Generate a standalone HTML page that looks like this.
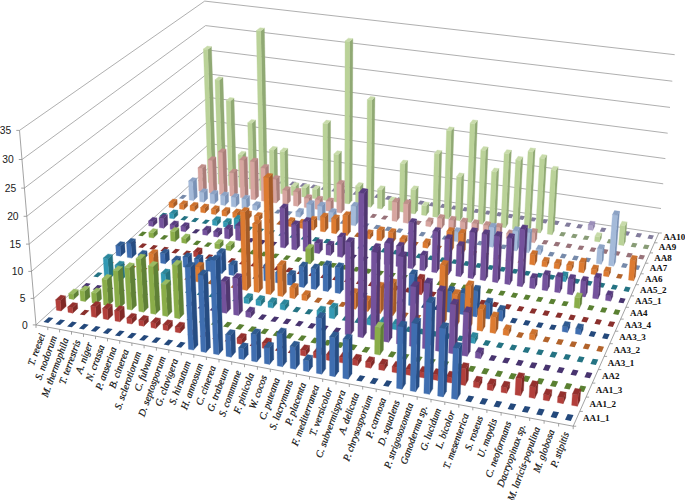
<!DOCTYPE html>
<html><head><meta charset="utf-8"><style>html,body{margin:0;padding:0;background:#fff;}svg{display:block}</style></head>
<body><svg width="685" height="500" viewBox="0 0 685 500">
<rect width="685" height="500" fill="#fff"/>
<g stroke="#9A9A9A" stroke-width="0.8" fill="none"><line x1="36.0" y1="324.9" x2="210.3" y2="166.4" /><line x1="210.3" y1="166.4" x2="658.8" y2="233.0" /><line x1="33.8" y1="298.4" x2="209.6" y2="143.6" /><line x1="209.6" y1="143.6" x2="661.0" y2="208.5" /><line x1="31.5" y1="271.4" x2="208.8" y2="120.6" /><line x1="208.8" y1="120.6" x2="663.2" y2="183.8" /><line x1="29.2" y1="244.1" x2="208.0" y2="97.3" /><line x1="208.0" y1="97.3" x2="665.4" y2="158.6" /><line x1="26.8" y1="216.3" x2="207.2" y2="73.7" /><line x1="207.2" y1="73.7" x2="667.7" y2="133.2" /><line x1="24.4" y1="188.1" x2="206.4" y2="49.8" /><line x1="206.4" y1="49.8" x2="670.0" y2="107.4" /><line x1="22.0" y1="159.5" x2="205.6" y2="25.6" /><line x1="205.6" y1="25.6" x2="672.3" y2="81.2" /><line x1="19.5" y1="130.4" x2="204.7" y2="1.1" /><line x1="204.7" y1="1.1" x2="674.7" y2="54.7" /></g><g stroke="#8C8C8C" stroke-width="0.8" fill="none"><line x1="36.0" y1="324.9" x2="19.5" y2="130.4"/><line x1="36.0" y1="324.9" x2="32.8" y2="324.9"/><line x1="33.8" y1="298.4" x2="30.6" y2="298.4"/><line x1="31.5" y1="271.4" x2="28.3" y2="271.4"/><line x1="29.2" y1="244.1" x2="26.0" y2="244.1"/><line x1="26.8" y1="216.3" x2="23.6" y2="216.3"/><line x1="24.4" y1="188.1" x2="21.2" y2="188.1"/><line x1="22.0" y1="159.5" x2="18.8" y2="159.5"/><line x1="19.5" y1="130.4" x2="16.3" y2="130.4"/><line x1="36.0" y1="324.9" x2="573.2" y2="426.2"/><line x1="36.0" y1="324.9" x2="36.0" y2="327.9"/><line x1="47.8" y1="327.1" x2="47.8" y2="330.1"/><line x1="59.6" y1="329.4" x2="59.6" y2="332.4"/><line x1="71.5" y1="331.6" x2="71.5" y2="334.6"/><line x1="83.5" y1="333.9" x2="83.5" y2="336.9"/><line x1="95.5" y1="336.1" x2="95.5" y2="339.1"/><line x1="107.5" y1="338.4" x2="107.5" y2="341.4"/><line x1="119.7" y1="340.7" x2="119.7" y2="343.7"/><line x1="131.9" y1="343.0" x2="131.9" y2="346.0"/><line x1="144.1" y1="345.3" x2="144.1" y2="348.3"/><line x1="156.4" y1="347.6" x2="156.4" y2="350.6"/><line x1="168.8" y1="350.0" x2="168.8" y2="353.0"/><line x1="181.3" y1="352.3" x2="181.3" y2="355.3"/><line x1="193.8" y1="354.7" x2="193.8" y2="357.7"/><line x1="206.4" y1="357.0" x2="206.4" y2="360.0"/><line x1="219.0" y1="359.4" x2="219.0" y2="362.4"/><line x1="231.7" y1="361.8" x2="231.7" y2="364.8"/><line x1="244.5" y1="364.2" x2="244.5" y2="367.2"/><line x1="257.4" y1="366.7" x2="257.4" y2="369.7"/><line x1="270.3" y1="369.1" x2="270.3" y2="372.1"/><line x1="283.3" y1="371.5" x2="283.3" y2="374.5"/><line x1="296.4" y1="374.0" x2="296.4" y2="377.0"/><line x1="309.5" y1="376.5" x2="309.5" y2="379.5"/><line x1="322.7" y1="379.0" x2="322.7" y2="382.0"/><line x1="336.0" y1="381.5" x2="336.0" y2="384.5"/><line x1="349.3" y1="384.0" x2="349.3" y2="387.0"/><line x1="362.7" y1="386.5" x2="362.7" y2="389.5"/><line x1="376.2" y1="389.1" x2="376.2" y2="392.1"/><line x1="389.8" y1="391.6" x2="389.8" y2="394.6"/><line x1="403.4" y1="394.2" x2="403.4" y2="397.2"/><line x1="417.2" y1="396.8" x2="417.2" y2="399.8"/><line x1="431.0" y1="399.4" x2="431.0" y2="402.4"/><line x1="444.8" y1="402.0" x2="444.8" y2="405.0"/><line x1="458.8" y1="404.6" x2="458.8" y2="407.6"/><line x1="472.8" y1="407.3" x2="472.8" y2="410.3"/><line x1="486.9" y1="409.9" x2="486.9" y2="412.9"/><line x1="501.1" y1="412.6" x2="501.1" y2="415.6"/><line x1="515.4" y1="415.3" x2="515.4" y2="418.3"/><line x1="529.7" y1="418.0" x2="529.7" y2="421.0"/><line x1="544.1" y1="420.7" x2="544.1" y2="423.7"/><line x1="558.6" y1="423.5" x2="558.6" y2="426.5"/><line x1="573.2" y1="426.2" x2="573.2" y2="429.2"/><line x1="573.2" y1="426.2" x2="658.8" y2="233.0"/><line x1="573.2" y1="426.2" x2="576.2" y2="426.2"/><line x1="579.8" y1="411.4" x2="582.8" y2="411.4"/><line x1="586.1" y1="397.1" x2="589.1" y2="397.1"/><line x1="592.3" y1="383.1" x2="595.3" y2="383.1"/><line x1="598.3" y1="369.6" x2="601.3" y2="369.6"/><line x1="604.1" y1="356.4" x2="607.1" y2="356.4"/><line x1="609.8" y1="343.7" x2="612.8" y2="343.7"/><line x1="615.3" y1="331.2" x2="618.3" y2="331.2"/><line x1="620.7" y1="319.1" x2="623.7" y2="319.1"/><line x1="625.9" y1="307.3" x2="628.9" y2="307.3"/><line x1="631.0" y1="295.9" x2="634.0" y2="295.9"/><line x1="635.9" y1="284.7" x2="638.9" y2="284.7"/><line x1="640.7" y1="273.8" x2="643.7" y2="273.8"/><line x1="645.4" y1="263.2" x2="648.4" y2="263.2"/><line x1="650.0" y1="252.9" x2="653.0" y2="252.9"/><line x1="654.5" y1="242.8" x2="657.5" y2="242.8"/><line x1="658.8" y1="233.0" x2="661.8" y2="233.0"/></g><g stroke-width="0.35" stroke-linejoin="round"><polygon points="207.1,172.6 211.1,173.2 214.7,169.9 210.7,169.3" fill="#827C9C"/><polygon points="217.1,174.1 221.2,174.7 224.8,171.4 220.7,170.8" fill="#827C9C"/><polygon points="227.3,175.6 231.4,176.2 234.9,172.9 230.8,172.3" fill="#827C9C"/><polygon points="237.5,177.1 241.6,177.7 245.0,174.4 241.0,173.8" fill="#827C9C"/><polygon points="247.7,178.7 251.8,179.3 255.2,175.9 251.2,175.3" fill="#827C9C"/><polygon points="258.0,180.2 262.1,180.8 265.5,177.5 261.4,176.8" fill="#827C9C"/><polygon points="268.3,181.8 272.4,182.4 275.8,179.0 271.7,178.4" fill="#827C9C"/><polygon points="278.7,183.3 282.8,183.9 286.1,180.5 282.0,179.9" fill="#827C9C"/><polygon points="289.1,184.9 293.2,185.5 296.5,182.1 292.4,181.5" fill="#827C9C"/><polygon points="299.5,186.4 303.7,187.1 306.9,183.6 302.8,183.0" fill="#827C9C"/><polygon points="310.0,188.0 314.2,188.6 317.4,185.2 313.2,184.6" fill="#827C9C"/><polygon points="320.5,189.6 324.8,190.2 327.9,186.8 323.7,186.1" fill="#827C9C"/><polygon points="331.1,191.2 335.4,191.8 338.5,188.3 334.3,187.7" fill="#827C9C"/><polygon points="341.8,192.8 346.0,193.4 349.1,189.9 344.8,189.3" fill="#827C9C"/><polygon points="352.4,194.4 356.7,195.0 359.7,191.5 355.5,190.9" fill="#827C9C"/><polygon points="363.2,196.0 367.5,196.6 370.4,193.1 366.2,192.5" fill="#827C9C"/><polygon points="373.9,197.6 378.3,198.2 381.2,194.7 376.9,194.1" fill="#827C9C"/><polygon points="384.8,199.2 389.1,199.9 392.0,196.3 387.7,195.7" fill="#827C9C"/><polygon points="395.6,200.8 400.0,201.5 402.8,197.9 398.5,197.3" fill="#827C9C"/><polygon points="406.5,202.5 410.9,203.1 413.7,199.6 409.4,198.9" fill="#827C9C"/><polygon points="417.5,204.1 421.9,204.8 424.7,201.2 420.3,200.5" fill="#827C9C"/><polygon points="428.5,205.8 432.9,206.4 435.6,202.8 431.2,202.2" fill="#827C9C"/><polygon points="439.6,207.4 444.0,208.1 446.7,204.5 442.3,203.8" fill="#827C9C"/><polygon points="450.7,209.1 455.1,209.8 457.8,206.1 453.3,205.5" fill="#827C9C"/><polygon points="461.8,210.8 466.3,211.4 468.9,207.8 464.4,207.1" fill="#827C9C"/><polygon points="473.0,212.4 477.5,213.1 480.1,209.4 475.6,208.8" fill="#827C9C"/><polygon points="484.3,214.1 488.8,214.8 491.3,211.1 486.8,210.4" fill="#827C9C"/><polygon points="495.6,215.8 500.1,216.5 502.6,212.8 498.1,212.1" fill="#827C9C"/><polygon points="507.0,217.5 511.5,218.2 513.9,214.5 509.4,213.8" fill="#827C9C"/><polygon points="518.4,219.2 522.9,219.9 525.3,216.2 520.7,215.5" fill="#827C9C"/><polygon points="529.8,221.0 534.4,221.6 536.7,217.9 532.1,217.2" fill="#827C9C"/><polygon points="541.3,222.7 546.0,223.4 548.2,219.6 543.6,218.9" fill="#827C9C"/><polygon points="552.9,224.4 557.6,225.1 559.7,221.3 555.1,220.6" fill="#827C9C"/><polygon points="564.5,226.2 569.2,226.9 571.3,223.1 566.7,222.4" fill="#827C9C"/><polygon points="576.2,227.9 580.9,228.6 583.0,224.8 578.3,224.1" fill="#827C9C"/><polygon points="592.63,230.37 594.65,226.53 595.00,221.70 592.97,225.52" fill="#8B7EA7" stroke="#8B7EA7"/><polygon points="587.92,229.67 592.63,230.37 592.97,225.52 588.26,224.82" fill="#AEA2C7" stroke="#AEA2C7"/><polygon points="588.26,224.82 592.97,225.52 595.00,221.70 590.31,221.00" fill="#9B8EB9" stroke="#9B8EB9"/><polygon points="599.7,231.4 604.4,232.1 606.4,228.3 601.7,227.6" fill="#827C9C"/><polygon points="611.5,233.2 616.3,233.9 618.2,230.0 613.5,229.3" fill="#827C9C"/><polygon points="623.4,235.0 628.2,235.7 630.1,231.8 625.3,231.1" fill="#827C9C"/><polygon points="635.4,236.8 640.1,237.5 642.0,233.6 637.2,232.9" fill="#827C9C"/><polygon points="647.4,238.6 652.2,239.3 653.9,235.4 649.1,234.7" fill="#827C9C"/><polygon points="197.9,180.9 202.0,181.6 205.6,178.2 201.6,177.6" fill="#889C76"/><polygon points="212.17,183.12 215.81,179.72 211.46,46.63 207.68,49.52" fill="#90A974" stroke="#90A974"/><polygon points="208.08,182.49 212.17,183.12 207.68,49.52 203.44,48.99" fill="#BAD298" stroke="#BAD298"/><polygon points="203.44,48.99 207.68,49.52 211.46,46.63 207.25,46.11" fill="#C8DBAA" stroke="#C8DBAA"/><polygon points="222.43,184.67 226.03,181.27 222.92,77.32 219.21,80.33" fill="#90A974" stroke="#90A974"/><polygon points="218.32,184.05 222.43,184.67 219.21,80.33 214.98,79.78" fill="#BAD298" stroke="#BAD298"/><polygon points="214.98,79.78 219.21,80.33 222.92,77.32 218.72,76.77" fill="#C8DBAA" stroke="#C8DBAA"/><polygon points="232.73,186.24 236.29,182.82 233.99,98.05 230.34,101.15" fill="#90A974" stroke="#90A974"/><polygon points="228.60,185.61 232.73,186.24 230.34,101.15 226.12,100.59" fill="#BAD298" stroke="#BAD298"/><polygon points="226.12,100.59 230.34,101.15 233.99,98.05 229.79,97.49" fill="#C8DBAA" stroke="#C8DBAA"/><polygon points="243.07,187.81 246.59,184.38 245.80,151.81 242.25,155.13" fill="#90A974" stroke="#90A974"/><polygon points="238.93,187.18 243.07,187.81 242.25,155.13 238.07,154.52" fill="#BAD298" stroke="#BAD298"/><polygon points="238.07,154.52 242.25,155.13 245.80,151.81 241.64,151.21" fill="#C8DBAA" stroke="#C8DBAA"/><polygon points="253.46,189.39 256.94,185.94 255.53,120.12 251.98,123.32" fill="#90A974" stroke="#90A974"/><polygon points="249.30,188.76 253.46,189.39 251.98,123.32 247.74,122.73" fill="#BAD298" stroke="#BAD298"/><polygon points="247.74,122.73 251.98,123.32 255.53,120.12 251.31,119.54" fill="#C8DBAA" stroke="#C8DBAA"/><polygon points="263.90,190.97 267.34,187.51 264.36,28.20 260.76,31.04" fill="#90A974" stroke="#90A974"/><polygon points="259.72,190.34 263.90,190.97 260.76,31.04 256.40,30.53" fill="#BAD298" stroke="#BAD298"/><polygon points="256.40,30.53 260.76,31.04 264.36,28.20 260.02,27.68" fill="#C8DBAA" stroke="#C8DBAA"/><polygon points="274.38,192.57 277.77,189.09 277.11,146.89 273.67,150.21" fill="#90A974" stroke="#90A974"/><polygon points="270.18,191.93 274.38,192.57 273.67,150.21 269.42,149.61" fill="#BAD298" stroke="#BAD298"/><polygon points="269.42,149.61 273.67,150.21 277.11,146.89 272.88,146.29" fill="#C8DBAA" stroke="#C8DBAA"/><polygon points="284.90,194.17 288.26,190.67 287.71,148.40 284.31,151.74" fill="#90A974" stroke="#90A974"/><polygon points="280.69,193.53 284.90,194.17 284.31,151.74 280.05,151.13" fill="#BAD298" stroke="#BAD298"/><polygon points="280.05,151.13 284.31,151.74 287.71,148.40 283.46,147.80" fill="#C8DBAA" stroke="#C8DBAA"/><polygon points="295.47,195.77 298.79,192.26 298.69,182.94 295.37,186.41" fill="#90A974" stroke="#90A974"/><polygon points="291.24,195.13 295.47,195.77 295.37,186.41 291.13,185.78" fill="#BAD298" stroke="#BAD298"/><polygon points="291.13,185.78 295.37,186.41 298.69,182.94 294.47,182.31" fill="#C8DBAA" stroke="#C8DBAA"/><polygon points="306.09,197.39 309.36,193.86 309.30,184.52 306.02,188.01" fill="#90A974" stroke="#90A974"/><polygon points="301.84,196.74 306.09,197.39 306.02,188.01 301.75,187.37" fill="#BAD298" stroke="#BAD298"/><polygon points="301.75,187.37 306.02,188.01 309.30,184.52 305.05,183.89" fill="#C8DBAA" stroke="#C8DBAA"/><polygon points="316.76,199.01 319.98,195.47 319.94,186.11 316.71,189.61" fill="#90A974" stroke="#90A974"/><polygon points="312.48,198.36 316.76,199.01 316.71,189.61 312.42,188.97" fill="#BAD298" stroke="#BAD298"/><polygon points="312.42,188.97 316.71,189.61 319.94,186.11 315.68,185.47" fill="#C8DBAA" stroke="#C8DBAA"/><polygon points="327.47,200.63 330.65,197.08 330.54,120.71 327.29,123.98" fill="#90A974" stroke="#90A974"/><polygon points="323.18,199.98 327.47,200.63 327.29,123.98 322.91,123.38" fill="#BAD298" stroke="#BAD298"/><polygon points="322.91,123.38 327.29,123.98 330.54,120.71 326.18,120.12" fill="#C8DBAA" stroke="#C8DBAA"/><polygon points="338.22,202.27 341.37,198.70 341.44,151.26 338.25,154.65" fill="#90A974" stroke="#90A974"/><polygon points="333.92,201.61 338.22,202.27 338.25,154.65 333.89,154.03" fill="#BAD298" stroke="#BAD298"/><polygon points="333.89,154.03 338.25,154.65 341.44,151.26 337.09,150.64" fill="#C8DBAA" stroke="#C8DBAA"/><polygon points="349.03,203.91 352.13,200.32 352.84,38.66 349.61,41.61" fill="#90A974" stroke="#90A974"/><polygon points="344.70,203.25 349.03,203.91 349.61,41.61 345.09,41.07" fill="#BAD298" stroke="#BAD298"/><polygon points="345.09,41.07 349.61,41.61 352.84,38.66 348.34,38.13" fill="#C8DBAA" stroke="#C8DBAA"/><polygon points="359.88,205.56 362.94,201.96 363.08,183.06 360.01,186.59" fill="#90A974" stroke="#90A974"/><polygon points="355.54,204.90 359.88,205.56 360.01,186.59 355.64,185.94" fill="#BAD298" stroke="#BAD298"/><polygon points="355.64,185.94 360.01,186.59 363.08,183.06 358.72,182.42" fill="#C8DBAA" stroke="#C8DBAA"/><polygon points="370.78,207.21 373.79,203.60 374.89,97.00 371.80,100.20" fill="#90A974" stroke="#90A974"/><polygon points="366.42,206.55 370.78,207.21 371.80,100.20 367.31,99.62" fill="#BAD298" stroke="#BAD298"/><polygon points="367.31,99.62 371.80,100.20 374.89,97.00 370.42,96.42" fill="#C8DBAA" stroke="#C8DBAA"/><polygon points="381.73,208.88 384.70,205.25 384.95,186.28 381.97,189.84" fill="#90A974" stroke="#90A974"/><polygon points="377.35,208.21 381.73,208.88 381.97,189.84 377.56,189.19" fill="#BAD298" stroke="#BAD298"/><polygon points="377.56,189.19 381.97,189.84 384.95,186.28 380.56,185.64" fill="#C8DBAA" stroke="#C8DBAA"/><polygon points="392.73,210.55 395.65,206.90 395.80,197.43 392.88,201.04" fill="#90A974" stroke="#90A974"/><polygon points="388.33,209.88 392.73,210.55 392.88,201.04 388.46,200.38" fill="#BAD298" stroke="#BAD298"/><polygon points="388.46,200.38 392.88,201.04 395.80,197.43 391.41,196.77" fill="#C8DBAA" stroke="#C8DBAA"/><polygon points="403.78,212.23 406.65,208.56 407.58,160.61 404.67,164.09" fill="#90A974" stroke="#90A974"/><polygon points="399.35,211.56 403.78,212.23 404.67,164.09 400.19,163.45" fill="#BAD298" stroke="#BAD298"/><polygon points="400.19,163.45 404.67,164.09 407.58,160.61 403.11,159.98" fill="#C8DBAA" stroke="#C8DBAA"/><polygon points="414.87,213.91 417.70,210.23 418.23,186.37 415.39,189.96" fill="#90A974" stroke="#90A974"/><polygon points="410.43,213.24 414.87,213.91 415.39,189.96 410.92,189.30" fill="#BAD298" stroke="#BAD298"/><polygon points="410.92,189.30 415.39,189.96 418.23,186.37 413.78,185.72" fill="#C8DBAA" stroke="#C8DBAA"/><polygon points="426.02,215.61 428.80,211.91 429.04,202.39 426.26,206.05" fill="#90A974" stroke="#90A974"/><polygon points="421.55,214.93 426.02,215.61 426.26,206.05 421.78,205.38" fill="#BAD298" stroke="#BAD298"/><polygon points="421.78,205.38 426.26,206.05 429.04,202.39 424.58,201.72" fill="#C8DBAA" stroke="#C8DBAA"/><polygon points="437.22,217.31 439.95,213.60 441.74,150.67 438.97,154.14" fill="#90A974" stroke="#90A974"/><polygon points="432.73,216.63 437.22,217.31 438.97,154.14 434.41,153.51" fill="#BAD298" stroke="#BAD298"/><polygon points="434.41,153.51 438.97,154.14 441.74,150.67 437.20,150.04" fill="#C8DBAA" stroke="#C8DBAA"/><polygon points="448.46,219.02 451.15,215.29 453.92,127.42 451.18,130.81" fill="#90A974" stroke="#90A974"/><polygon points="443.96,218.33 448.46,219.02 451.18,130.81 446.57,130.19" fill="#BAD298" stroke="#BAD298"/><polygon points="446.57,130.19 451.18,130.81 453.92,127.42 449.33,126.81" fill="#C8DBAA" stroke="#C8DBAA"/><polygon points="459.76,220.73 462.40,216.99 463.90,173.50 461.24,177.08" fill="#90A974" stroke="#90A974"/><polygon points="455.23,220.05 459.76,220.73 461.24,177.08 456.66,176.42" fill="#BAD298" stroke="#BAD298"/><polygon points="456.66,176.42 461.24,177.08 463.90,173.50 459.34,172.85" fill="#C8DBAA" stroke="#C8DBAA"/><polygon points="471.11,222.46 473.70,218.70 477.41,120.44 474.77,123.82" fill="#90A974" stroke="#90A974"/><polygon points="466.56,221.77 471.11,222.46 474.77,123.82 470.10,123.20" fill="#BAD298" stroke="#BAD298"/><polygon points="470.10,123.20 474.77,123.82 477.41,120.44 472.76,119.83" fill="#C8DBAA" stroke="#C8DBAA"/><polygon points="482.51,224.19 485.05,220.41 488.05,147.08 485.47,150.57" fill="#90A974" stroke="#90A974"/><polygon points="477.94,223.50 482.51,224.19 485.47,150.57 480.81,149.93" fill="#BAD298" stroke="#BAD298"/><polygon points="480.81,149.93 485.47,150.57 488.05,147.08 483.41,146.45" fill="#C8DBAA" stroke="#C8DBAA"/><polygon points="493.96,225.93 496.45,222.13 498.81,168.55 496.29,172.14" fill="#90A974" stroke="#90A974"/><polygon points="489.37,225.23 493.96,225.93 496.29,172.14 491.64,171.48" fill="#BAD298" stroke="#BAD298"/><polygon points="491.64,171.48 496.29,172.14 498.81,168.55 494.17,167.90" fill="#C8DBAA" stroke="#C8DBAA"/><polygon points="505.46,227.68 507.90,223.86 511.38,150.27 508.90,153.79" fill="#90A974" stroke="#90A974"/><polygon points="500.85,226.98 505.46,227.68 508.90,153.79 504.20,153.15" fill="#BAD298" stroke="#BAD298"/><polygon points="504.20,153.15 508.90,153.79 511.38,150.27 506.69,149.63" fill="#C8DBAA" stroke="#C8DBAA"/><polygon points="517.01,229.43 519.41,225.60 522.87,156.88 520.45,160.44" fill="#90A974" stroke="#90A974"/><polygon points="512.39,228.73 517.01,229.43 520.45,160.44 515.73,159.79" fill="#BAD298" stroke="#BAD298"/><polygon points="515.73,159.79 520.45,160.44 522.87,156.88 518.17,156.23" fill="#C8DBAA" stroke="#C8DBAA"/><polygon points="528.62,231.20 530.96,227.35 535.20,148.45 532.83,151.99" fill="#90A974" stroke="#90A974"/><polygon points="523.97,230.49 528.62,231.20 532.83,151.99 528.07,151.34" fill="#BAD298" stroke="#BAD298"/><polygon points="528.07,151.34 532.83,151.99 535.20,148.45 530.46,147.81" fill="#C8DBAA" stroke="#C8DBAA"/><polygon points="540.28,232.97 542.57,229.10 546.78,155.10 544.47,158.67" fill="#90A974" stroke="#90A974"/><polygon points="535.61,232.26 540.28,232.97 544.47,158.67 539.70,158.02" fill="#BAD298" stroke="#BAD298"/><polygon points="539.70,158.02 544.47,158.67 546.78,155.10 542.03,154.45" fill="#C8DBAA" stroke="#C8DBAA"/><polygon points="552.00,234.75 554.24,230.87 558.09,166.78 555.83,170.42" fill="#90A974" stroke="#90A974"/><polygon points="547.31,234.04 552.00,234.75 555.83,170.42 551.05,169.75" fill="#BAD298" stroke="#BAD298"/><polygon points="551.05,169.75 555.83,170.42 558.09,166.78 553.33,166.13" fill="#C8DBAA" stroke="#C8DBAA"/><polygon points="559.1,235.8 563.8,236.5 566.0,232.6 561.3,231.9" fill="#889C76"/><polygon points="570.9,237.6 575.6,238.3 577.7,234.4 573.0,233.7" fill="#889C76"/><polygon points="582.7,239.4 587.5,240.1 589.5,236.2 584.8,235.5" fill="#889C76"/><polygon points="599.40,241.95 601.43,238.00 601.78,233.11 599.76,237.05" fill="#90A974" stroke="#90A974"/><polygon points="594.62,241.22 599.40,241.95 599.76,237.05 594.97,236.32" fill="#BAD298" stroke="#BAD298"/><polygon points="594.97,236.32 599.76,237.05 601.78,233.11 597.02,232.40" fill="#C8DBAA" stroke="#C8DBAA"/><polygon points="606.6,243.0 611.4,243.8 613.4,239.8 608.6,239.1" fill="#889C76"/><polygon points="623.43,245.60 625.35,241.61 626.92,221.92 625.00,225.83" fill="#90A974" stroke="#90A974"/><polygon points="618.61,244.87 623.43,245.60 625.00,225.83 620.15,225.11" fill="#BAD298" stroke="#BAD298"/><polygon points="620.15,225.11 625.00,225.83 626.92,221.92 622.09,221.21" fill="#C8DBAA" stroke="#C8DBAA"/><polygon points="630.7,246.7 635.5,247.4 637.4,243.4 632.6,242.7" fill="#889C76"/><polygon points="642.8,248.5 647.7,249.3 649.5,245.3 644.6,244.5" fill="#889C76"/><polygon points="188.5,189.5 192.6,190.1 196.4,186.7 192.3,186.1" fill="#987279"/><polygon points="202.94,191.73 206.66,188.26 205.84,164.97 202.09,168.35" fill="#AA7E7A" stroke="#AA7E7A"/><polygon points="198.81,191.09 202.94,191.73 202.09,168.35 197.93,167.73" fill="#D7A5A0" stroke="#D7A5A0"/><polygon points="197.93,167.73 202.09,168.35 205.84,164.97 201.70,164.35" fill="#BF8F8A" stroke="#BF8F8A"/><polygon points="213.29,193.33 216.97,189.84 215.91,157.09 212.19,160.45" fill="#AA7E7A" stroke="#AA7E7A"/><polygon points="209.14,192.69 213.29,193.33 212.19,160.45 208.01,159.84" fill="#D7A5A0" stroke="#D7A5A0"/><polygon points="208.01,159.84 212.19,160.45 215.91,157.09 211.74,156.48" fill="#BF8F8A" stroke="#BF8F8A"/><polygon points="223.69,194.93 227.33,191.43 226.08,149.14 222.39,152.48" fill="#AA7E7A" stroke="#AA7E7A"/><polygon points="219.53,194.29 223.69,194.93 222.39,152.48 218.18,151.87" fill="#D7A5A0" stroke="#D7A5A0"/><polygon points="218.18,151.87 222.39,152.48 226.08,149.14 221.88,148.53" fill="#BF8F8A" stroke="#BF8F8A"/><polygon points="234.14,196.54 237.74,193.02 237.11,169.61 233.48,173.03" fill="#AA7E7A" stroke="#AA7E7A"/><polygon points="229.95,195.89 234.14,196.54 233.48,173.03 229.27,172.40" fill="#D7A5A0" stroke="#D7A5A0"/><polygon points="229.27,172.40 233.48,173.03 237.11,169.61 232.92,168.98" fill="#BF8F8A" stroke="#BF8F8A"/><polygon points="244.63,198.15 248.19,194.62 247.28,156.95 243.68,160.33" fill="#AA7E7A" stroke="#AA7E7A"/><polygon points="240.43,197.51 244.63,198.15 243.68,160.33 239.44,159.71" fill="#D7A5A0" stroke="#D7A5A0"/><polygon points="239.44,159.71 243.68,160.33 247.28,156.95 243.06,156.33" fill="#BF8F8A" stroke="#BF8F8A"/><polygon points="255.17,199.78 258.68,196.23 257.89,158.49 254.33,161.89" fill="#AA7E7A" stroke="#AA7E7A"/><polygon points="250.94,199.13 255.17,199.78 254.33,161.89 250.07,161.27" fill="#D7A5A0" stroke="#D7A5A0"/><polygon points="250.07,161.27 254.33,161.89 257.89,158.49 253.64,157.87" fill="#BF8F8A" stroke="#BF8F8A"/><polygon points="265.75,201.41 269.22,197.85 268.62,164.80 265.11,168.24" fill="#AA7E7A" stroke="#AA7E7A"/><polygon points="261.51,200.75 265.75,201.41 265.11,168.24 260.84,167.61" fill="#D7A5A0" stroke="#D7A5A0"/><polygon points="260.84,167.61 265.11,168.24 268.62,164.80 264.36,164.18" fill="#BF8F8A" stroke="#BF8F8A"/><polygon points="276.38,203.04 279.81,199.47 279.45,175.89 275.99,179.37" fill="#AA7E7A" stroke="#AA7E7A"/><polygon points="272.12,202.39 276.38,203.04 275.99,179.37 271.71,178.73" fill="#D7A5A0" stroke="#D7A5A0"/><polygon points="271.71,178.73 275.99,179.37 279.45,175.89 275.18,175.25" fill="#BF8F8A" stroke="#BF8F8A"/><polygon points="287.06,204.69 290.45,201.10 290.27,186.96 286.87,190.50" fill="#AA7E7A" stroke="#AA7E7A"/><polygon points="282.78,204.03 287.06,204.69 286.87,190.50 282.57,189.85" fill="#D7A5A0" stroke="#D7A5A0"/><polygon points="282.57,189.85 286.87,190.50 290.27,186.96 286.00,186.32" fill="#BF8F8A" stroke="#BF8F8A"/><polygon points="297.78,206.34 301.13,202.73 300.99,188.57 297.63,192.12" fill="#AA7E7A" stroke="#AA7E7A"/><polygon points="293.48,205.68 297.78,206.34 297.63,192.12 293.32,191.47" fill="#D7A5A0" stroke="#D7A5A0"/><polygon points="293.32,191.47 297.63,192.12 300.99,188.57 296.70,187.93" fill="#BF8F8A" stroke="#BF8F8A"/><polygon points="308.55,208.00 311.86,204.38 311.79,194.93 308.48,198.52" fill="#AA7E7A" stroke="#AA7E7A"/><polygon points="304.24,207.33 308.55,208.00 308.48,198.52 304.15,197.86" fill="#D7A5A0" stroke="#D7A5A0"/><polygon points="304.15,197.86 308.48,198.52 311.79,194.93 307.49,194.28" fill="#BF8F8A" stroke="#BF8F8A"/><polygon points="319.37,209.67 322.63,206.03 322.60,196.56 319.33,200.17" fill="#AA7E7A" stroke="#AA7E7A"/><polygon points="315.04,209.00 319.37,209.67 319.33,200.17 314.98,199.51" fill="#D7A5A0" stroke="#D7A5A0"/><polygon points="314.98,199.51 319.33,200.17 322.60,196.56 318.27,195.91" fill="#BF8F8A" stroke="#BF8F8A"/><polygon points="330.24,211.34 333.45,207.69 333.45,198.21 330.22,201.82" fill="#AA7E7A" stroke="#AA7E7A"/><polygon points="325.88,210.67 330.24,211.34 330.22,201.82 325.86,201.16" fill="#D7A5A0" stroke="#D7A5A0"/><polygon points="325.86,201.16 330.22,201.82 333.45,198.21 329.10,197.55" fill="#BF8F8A" stroke="#BF8F8A"/><polygon points="341.15,213.02 344.33,209.35 344.39,180.71 341.19,184.28" fill="#AA7E7A" stroke="#AA7E7A"/><polygon points="336.78,212.35 341.15,213.02 341.19,184.28 336.79,183.62" fill="#D7A5A0" stroke="#D7A5A0"/><polygon points="336.79,183.62 341.19,184.28 344.39,180.71 340.00,180.07" fill="#BF8F8A" stroke="#BF8F8A"/><polygon points="347.7,214.0 352.1,214.7 355.2,211.0 350.9,210.4" fill="#987279"/><polygon points="358.7,215.7 363.1,216.4 366.2,212.7 361.8,212.0" fill="#987279"/><polygon points="369.8,217.4 374.2,218.1 377.2,214.4 372.8,213.7" fill="#987279"/><polygon points="380.9,219.1 385.3,219.8 388.3,216.1 383.9,215.4" fill="#987279"/><polygon points="396.47,221.54 399.41,217.79 399.75,198.58 396.79,202.26" fill="#AA7E7A" stroke="#AA7E7A"/><polygon points="392.00,220.85 396.47,221.54 396.79,202.26 392.30,201.58" fill="#D7A5A0" stroke="#D7A5A0"/><polygon points="392.30,201.58 396.79,202.26 399.75,198.58 395.27,197.91" fill="#BF8F8A" stroke="#BF8F8A"/><polygon points="407.68,223.27 410.58,219.50 410.97,200.25 408.07,203.95" fill="#AA7E7A" stroke="#AA7E7A"/><polygon points="403.19,222.58 407.68,223.27 408.07,203.95 403.55,203.27" fill="#D7A5A0" stroke="#D7A5A0"/><polygon points="403.55,203.27 408.07,203.95 410.97,200.25 406.48,199.58" fill="#BF8F8A" stroke="#BF8F8A"/><polygon points="414.4,224.3 418.9,225.0 421.8,221.2 417.3,220.5" fill="#987279"/><polygon points="430.26,226.75 433.06,222.94 433.19,218.14 430.39,221.92" fill="#AA7E7A" stroke="#AA7E7A"/><polygon points="425.73,226.05 430.26,226.75 430.39,221.92 425.85,221.23" fill="#D7A5A0" stroke="#D7A5A0"/><polygon points="425.85,221.23 430.39,221.92 433.19,218.14 428.67,217.45" fill="#BF8F8A" stroke="#BF8F8A"/><polygon points="441.63,228.50 444.38,224.68 444.67,215.03 441.91,218.81" fill="#AA7E7A" stroke="#AA7E7A"/><polygon points="437.08,227.80 441.63,228.50 441.91,218.81 437.35,218.12" fill="#D7A5A0" stroke="#D7A5A0"/><polygon points="437.35,218.12 441.91,218.81 444.67,215.03 440.13,214.34" fill="#BF8F8A" stroke="#BF8F8A"/><polygon points="453.05,230.26 455.75,226.42 456.07,216.75 453.36,220.55" fill="#AA7E7A" stroke="#AA7E7A"/><polygon points="448.48,229.55 453.05,230.26 453.36,220.55 448.78,219.86" fill="#D7A5A0" stroke="#D7A5A0"/><polygon points="448.78,219.86 453.36,220.55 456.07,216.75 451.51,216.06" fill="#BF8F8A" stroke="#BF8F8A"/><polygon points="464.52,232.02 467.17,228.17 467.52,218.49 464.87,222.30" fill="#AA7E7A" stroke="#AA7E7A"/><polygon points="459.93,231.32 464.52,232.02 464.87,222.30 460.26,221.60" fill="#D7A5A0" stroke="#D7A5A0"/><polygon points="460.26,221.60 464.87,222.30 467.52,218.49 462.94,217.79" fill="#BF8F8A" stroke="#BF8F8A"/><polygon points="476.05,233.80 478.65,229.93 479.03,220.23 476.42,224.06" fill="#AA7E7A" stroke="#AA7E7A"/><polygon points="471.43,233.09 476.05,233.80 476.42,224.06 471.79,223.36" fill="#D7A5A0" stroke="#D7A5A0"/><polygon points="471.79,223.36 476.42,224.06 479.03,220.23 474.42,219.53" fill="#BF8F8A" stroke="#BF8F8A"/><polygon points="487.62,235.58 490.17,231.69 490.59,221.97 488.03,225.83" fill="#AA7E7A" stroke="#AA7E7A"/><polygon points="482.98,234.87 487.62,235.58 488.03,225.83 483.38,225.12" fill="#D7A5A0" stroke="#D7A5A0"/><polygon points="483.38,225.12 488.03,225.83 490.59,221.97 485.96,221.27" fill="#BF8F8A" stroke="#BF8F8A"/><polygon points="499.25,237.37 501.75,233.47 502.20,223.73 499.69,227.60" fill="#AA7E7A" stroke="#AA7E7A"/><polygon points="494.59,236.66 499.25,237.37 499.69,227.60 495.02,226.89" fill="#D7A5A0" stroke="#D7A5A0"/><polygon points="495.02,226.89 499.69,227.60 502.20,223.73 497.55,223.03" fill="#BF8F8A" stroke="#BF8F8A"/><polygon points="510.93,239.17 513.38,235.25 513.62,230.38 511.17,234.28" fill="#AA7E7A" stroke="#AA7E7A"/><polygon points="506.26,238.45 510.93,239.17 511.17,234.28 506.48,233.57" fill="#D7A5A0" stroke="#D7A5A0"/><polygon points="506.48,233.57 511.17,234.28 513.62,230.38 508.96,229.67" fill="#BF8F8A" stroke="#BF8F8A"/><polygon points="522.67,240.98 525.07,237.04 525.32,232.16 522.92,236.08" fill="#AA7E7A" stroke="#AA7E7A"/><polygon points="517.97,240.26 522.67,240.98 522.92,236.08 518.22,235.36" fill="#D7A5A0" stroke="#D7A5A0"/><polygon points="518.22,235.36 522.92,236.08 525.32,232.16 520.64,231.45" fill="#BF8F8A" stroke="#BF8F8A"/><polygon points="534.46,242.80 536.81,238.84 537.35,229.05 535.00,232.97" fill="#AA7E7A" stroke="#AA7E7A"/><polygon points="529.74,242.07 534.46,242.80 535.00,232.97 530.27,232.25" fill="#D7A5A0" stroke="#D7A5A0"/><polygon points="530.27,232.25 535.00,232.97 537.35,229.05 532.64,228.33" fill="#BF8F8A" stroke="#BF8F8A"/><polygon points="541.6,243.9 546.3,244.6 548.6,240.6 543.9,239.9" fill="#987279"/><polygon points="553.4,245.7 558.2,246.5 560.5,242.5 555.7,241.7" fill="#987279"/><polygon points="565.4,247.6 570.2,248.3 572.4,244.3 567.6,243.6" fill="#987279"/><polygon points="577.4,249.4 582.2,250.1 584.3,246.1 579.5,245.4" fill="#987279"/><polygon points="589.4,251.3 594.3,252.0 596.3,248.0 591.5,247.2" fill="#987279"/><polygon points="601.5,253.1 606.4,253.9 608.4,249.8 603.6,249.1" fill="#987279"/><polygon points="613.7,255.0 618.6,255.8 620.5,251.7 615.7,250.9" fill="#987279"/><polygon points="625.9,256.9 630.8,257.6 632.7,253.5 627.8,252.8" fill="#987279"/><polygon points="638.2,258.8 643.1,259.5 645.0,255.4 640.0,254.7" fill="#987279"/><polygon points="178.9,198.3 183.1,198.9 186.9,195.4 182.8,194.7" fill="#768AAA"/><polygon points="193.48,200.55 197.29,197.00 196.58,178.21 192.75,181.69" fill="#7A92B6" stroke="#7A92B6"/><polygon points="189.31,199.89 193.48,200.55 192.75,181.69 188.56,181.05" fill="#A4BAD9" stroke="#A4BAD9"/><polygon points="188.56,181.05 192.75,181.69 196.58,178.21 192.41,177.58" fill="#8CA2C4" stroke="#8CA2C4"/><polygon points="203.94,202.18 207.71,198.61 207.38,189.23 203.60,192.76" fill="#7A92B6" stroke="#7A92B6"/><polygon points="199.75,201.53 203.94,202.18 203.60,192.76 199.40,192.11" fill="#A4BAD9" stroke="#A4BAD9"/><polygon points="199.40,192.11 203.60,192.76 207.38,189.23 203.20,188.59" fill="#8CA2C4" stroke="#8CA2C4"/><polygon points="214.44,203.82 218.17,200.24 217.86,190.84 214.13,194.38" fill="#7A92B6" stroke="#7A92B6"/><polygon points="210.23,203.16 214.44,203.82 214.13,194.38 209.91,193.73" fill="#A4BAD9" stroke="#A4BAD9"/><polygon points="209.91,193.73 214.13,194.38 217.86,190.84 213.66,190.19" fill="#8CA2C4" stroke="#8CA2C4"/><polygon points="224.99,205.47 228.67,201.87 228.40,192.45 224.70,196.01" fill="#7A92B6" stroke="#7A92B6"/><polygon points="220.76,204.81 224.99,205.47 224.70,196.01 220.47,195.36" fill="#A4BAD9" stroke="#A4BAD9"/><polygon points="220.47,195.36 224.70,196.01 228.40,192.45 224.18,191.81" fill="#8CA2C4" stroke="#8CA2C4"/><polygon points="235.58,207.12 239.23,203.51 238.98,194.07 235.32,197.65" fill="#7A92B6" stroke="#7A92B6"/><polygon points="231.34,206.46 235.58,207.12 235.32,197.65 231.07,197.00" fill="#A4BAD9" stroke="#A4BAD9"/><polygon points="231.07,197.00 235.32,197.65 238.98,194.07 234.74,193.42" fill="#8CA2C4" stroke="#8CA2C4"/><polygon points="246.22,208.78 249.83,205.16 249.60,195.70 245.99,199.30" fill="#7A92B6" stroke="#7A92B6"/><polygon points="241.96,208.12 246.22,208.78 245.99,199.30 241.72,198.64" fill="#A4BAD9" stroke="#A4BAD9"/><polygon points="241.72,198.64 245.99,199.30 249.60,195.70 245.35,195.05" fill="#8CA2C4" stroke="#8CA2C4"/><polygon points="256.91,210.45 260.47,206.81 260.38,202.08 256.81,205.71" fill="#7A92B6" stroke="#7A92B6"/><polygon points="252.63,209.79 256.91,210.45 256.81,205.71 252.52,205.04" fill="#A4BAD9" stroke="#A4BAD9"/><polygon points="252.52,205.04 256.81,205.71 260.38,202.08 256.11,201.42" fill="#8CA2C4" stroke="#8CA2C4"/><polygon points="263.4,211.5 267.7,212.1 271.2,208.5 266.9,207.8" fill="#768AAA"/><polygon points="274.1,213.1 278.4,213.8 281.9,210.1 277.6,209.5" fill="#768AAA"/><polygon points="284.9,214.8 289.3,215.5 292.7,211.8 288.4,211.1" fill="#768AAA"/><polygon points="300.15,217.21 303.53,213.50 303.49,208.74 300.10,212.43" fill="#7A92B6" stroke="#7A92B6"/><polygon points="295.79,216.53 300.15,217.21 300.10,212.43 295.74,211.75" fill="#A4BAD9" stroke="#A4BAD9"/><polygon points="295.74,211.75 300.10,212.43 303.49,208.74 299.15,208.07" fill="#8CA2C4" stroke="#8CA2C4"/><polygon points="311.08,218.91 314.42,215.19 314.33,200.84 310.98,204.51" fill="#7A92B6" stroke="#7A92B6"/><polygon points="306.70,218.23 311.08,218.91 310.98,204.51 306.59,203.84" fill="#A4BAD9" stroke="#A4BAD9"/><polygon points="306.59,203.84 310.98,204.51 314.33,200.84 309.96,200.18" fill="#8CA2C4" stroke="#8CA2C4"/><polygon points="322.06,220.63 325.35,216.89 325.31,202.51 322.00,206.20" fill="#7A92B6" stroke="#7A92B6"/><polygon points="317.66,219.94 322.06,220.63 322.00,206.20 317.59,205.53" fill="#A4BAD9" stroke="#A4BAD9"/><polygon points="317.59,205.53 322.00,206.20 325.31,202.51 320.91,201.84" fill="#8CA2C4" stroke="#8CA2C4"/><polygon points="333.09,222.35 336.34,218.59 336.34,209.01 333.08,212.73" fill="#7A92B6" stroke="#7A92B6"/><polygon points="328.67,221.66 333.09,222.35 333.08,212.73 328.65,212.05" fill="#A4BAD9" stroke="#A4BAD9"/><polygon points="328.65,212.05 333.08,212.73 336.34,209.01 331.93,208.33" fill="#8CA2C4" stroke="#8CA2C4"/><polygon points="339.7,223.4 344.2,224.1 347.4,220.3 343.0,219.6" fill="#768AAA"/><polygon points="355.30,225.82 358.45,222.03 358.57,202.74 355.40,206.46" fill="#7A92B6" stroke="#7A92B6"/><polygon points="350.84,225.12 355.30,225.82 355.40,206.46 350.92,205.77" fill="#A4BAD9" stroke="#A4BAD9"/><polygon points="350.92,205.77 355.40,206.46 358.57,202.74 354.11,202.06" fill="#8CA2C4" stroke="#8CA2C4"/><polygon points="362.0,226.9 366.5,227.6 369.6,223.8 365.1,223.1" fill="#768AAA"/><polygon points="373.2,228.6 377.7,229.3 380.8,225.5 376.3,224.8" fill="#768AAA"/><polygon points="384.5,230.4 389.0,231.1 392.0,227.2 387.5,226.5" fill="#768AAA"/><polygon points="395.8,232.1 400.3,232.9 403.3,229.0 398.8,228.3" fill="#768AAA"/><polygon points="407.1,233.9 411.7,234.6 414.6,230.8 410.1,230.0" fill="#768AAA"/><polygon points="418.6,235.7 423.1,236.4 426.0,232.5 421.5,231.8" fill="#768AAA"/><polygon points="430.0,237.5 434.6,238.2 437.5,234.3 432.9,233.6" fill="#768AAA"/><polygon points="441.6,239.3 446.2,240.0 448.9,236.1 444.3,235.4" fill="#768AAA"/><polygon points="457.77,241.83 460.49,237.88 460.83,228.10 458.10,232.01" fill="#7A92B6" stroke="#7A92B6"/><polygon points="453.13,241.10 457.77,241.83 458.10,232.01 453.45,231.29" fill="#A4BAD9" stroke="#A4BAD9"/><polygon points="453.45,231.29 458.10,232.01 460.83,228.10 456.19,227.39" fill="#8CA2C4" stroke="#8CA2C4"/><polygon points="464.8,242.9 469.4,243.6 472.1,239.7 467.4,239.0" fill="#768AAA"/><polygon points="476.4,244.7 481.1,245.5 483.7,241.5 479.1,240.8" fill="#768AAA"/><polygon points="492.89,247.31 495.45,243.31 496.32,223.59 493.75,227.52" fill="#7A92B6" stroke="#7A92B6"/><polygon points="488.18,246.58 492.89,247.31 493.75,227.52 489.01,226.80" fill="#A4BAD9" stroke="#A4BAD9"/><polygon points="489.01,226.80 493.75,227.52 496.32,223.59 491.61,222.88" fill="#8CA2C4" stroke="#8CA2C4"/><polygon points="500.0,248.4 504.7,249.2 507.2,245.1 502.5,244.4" fill="#768AAA"/><polygon points="516.57,251.01 519.03,246.97 520.03,227.18 517.57,231.15" fill="#7A92B6" stroke="#7A92B6"/><polygon points="511.82,250.27 516.57,251.01 517.57,231.15 512.78,230.42" fill="#A4BAD9" stroke="#A4BAD9"/><polygon points="512.78,230.42 517.57,231.15 520.03,227.18 515.27,226.46" fill="#8CA2C4" stroke="#8CA2C4"/><polygon points="528.50,252.87 530.90,248.81 531.97,228.99 529.56,232.97" fill="#7A92B6" stroke="#7A92B6"/><polygon points="523.72,252.13 528.50,252.87 529.56,232.97 524.76,232.24" fill="#A4BAD9" stroke="#A4BAD9"/><polygon points="524.76,232.24 529.56,232.97 531.97,228.99 527.19,228.27" fill="#8CA2C4" stroke="#8CA2C4"/><polygon points="540.48,254.75 542.83,250.67 543.11,245.72 540.76,249.78" fill="#7A92B6" stroke="#7A92B6"/><polygon points="535.68,254.00 540.48,254.75 540.76,249.78 535.95,249.04" fill="#A4BAD9" stroke="#A4BAD9"/><polygon points="535.95,249.04 540.76,249.78 543.11,245.72 538.33,244.98" fill="#8CA2C4" stroke="#8CA2C4"/><polygon points="547.7,255.9 552.5,256.6 554.8,252.5 550.0,251.8" fill="#768AAA"/><polygon points="559.8,257.8 564.6,258.5 566.9,254.4 562.0,253.6" fill="#768AAA"/><polygon points="571.9,259.7 576.8,260.4 578.9,256.3 574.1,255.5" fill="#768AAA"/><polygon points="584.1,261.6 589.0,262.3 591.1,258.2 586.2,257.4" fill="#768AAA"/><polygon points="601.24,264.24 603.31,260.06 604.43,245.05 602.35,249.17" fill="#7A92B6" stroke="#7A92B6"/><polygon points="596.33,263.47 601.24,264.24 602.35,249.17 597.42,248.41" fill="#A4BAD9" stroke="#A4BAD9"/><polygon points="597.42,248.41 602.35,249.17 604.43,245.05 599.51,244.30" fill="#8CA2C4" stroke="#8CA2C4"/><polygon points="613.57,266.16 615.58,261.97 619.51,211.34 617.49,215.33" fill="#7A92B6" stroke="#7A92B6"/><polygon points="608.63,265.39 613.57,266.16 617.49,215.33 612.48,214.60" fill="#A4BAD9" stroke="#A4BAD9"/><polygon points="612.48,214.60 617.49,215.33 619.51,211.34 614.53,210.62" fill="#8CA2C4" stroke="#8CA2C4"/><polygon points="621.0,267.3 626.0,268.1 627.9,263.9 623.0,263.1" fill="#768AAA"/><polygon points="633.4,269.3 638.4,270.0 640.3,265.8 635.3,265.0" fill="#768AAA"/><polygon points="173.29,207.91 177.23,204.29 177.03,199.57 173.08,203.17" fill="#A45B27" stroke="#A45B27"/><polygon points="169.10,207.24 173.29,207.91 173.08,203.17 168.89,202.51" fill="#DD7B31" stroke="#DD7B31"/><polygon points="168.89,202.51 173.08,203.17 177.03,199.57 172.85,198.92" fill="#CC712D" stroke="#CC712D"/><polygon points="183.81,209.57 187.70,205.94 187.51,201.21 183.61,204.83" fill="#A45B27" stroke="#A45B27"/><polygon points="179.60,208.90 183.81,209.57 183.61,204.83 179.39,204.17" fill="#DD7B31" stroke="#DD7B31"/><polygon points="179.39,204.17 183.61,204.83 187.51,201.21 183.31,200.56" fill="#CC712D" stroke="#CC712D"/><polygon points="194.36,211.24 198.22,207.59 198.04,202.86 194.18,206.50" fill="#A45B27" stroke="#A45B27"/><polygon points="190.14,210.57 194.36,211.24 194.18,206.50 189.95,205.83" fill="#DD7B31" stroke="#DD7B31"/><polygon points="189.95,205.83 194.18,206.50 198.04,202.86 193.82,202.20" fill="#CC712D" stroke="#CC712D"/><polygon points="204.97,212.92 208.78,209.26 208.62,204.52 204.80,208.17" fill="#A45B27" stroke="#A45B27"/><polygon points="200.72,212.25 204.97,212.92 204.80,208.17 200.55,207.50" fill="#DD7B31" stroke="#DD7B31"/><polygon points="200.55,207.50 204.80,208.17 208.62,204.52 204.38,203.85" fill="#CC712D" stroke="#CC712D"/><polygon points="215.62,214.61 219.40,210.93 219.24,206.18 215.46,209.85" fill="#A45B27" stroke="#A45B27"/><polygon points="211.36,213.94 215.62,214.61 215.46,209.85 211.19,209.17" fill="#DD7B31" stroke="#DD7B31"/><polygon points="211.19,209.17 215.46,209.85 219.24,206.18 214.99,205.51" fill="#CC712D" stroke="#CC712D"/><polygon points="226.32,216.31 230.05,212.61 229.92,207.85 226.18,211.53" fill="#A45B27" stroke="#A45B27"/><polygon points="222.04,215.63 226.32,216.31 226.18,211.53 221.89,210.86" fill="#DD7B31" stroke="#DD7B31"/><polygon points="221.89,210.86 226.18,211.53 229.92,207.85 225.64,207.18" fill="#CC712D" stroke="#CC712D"/><polygon points="237.07,218.01 240.76,214.29 240.63,209.53 236.94,213.23" fill="#A45B27" stroke="#A45B27"/><polygon points="232.77,217.33 237.07,218.01 236.94,213.23 232.63,212.55" fill="#DD7B31" stroke="#DD7B31"/><polygon points="232.63,212.55 236.94,213.23 240.63,209.53 236.34,208.86" fill="#CC712D" stroke="#CC712D"/><polygon points="247.87,219.72 251.51,215.99 251.40,211.21 247.75,214.93" fill="#A45B27" stroke="#A45B27"/><polygon points="243.54,219.03 247.87,219.72 247.75,214.93 243.42,214.25" fill="#DD7B31" stroke="#DD7B31"/><polygon points="243.42,214.25 247.75,214.93 251.40,211.21 247.09,210.54" fill="#CC712D" stroke="#CC712D"/><polygon points="258.71,221.44 262.31,217.69 262.22,212.91 258.61,216.64" fill="#A45B27" stroke="#A45B27"/><polygon points="254.37,220.75 258.71,221.44 258.61,216.64 254.26,215.95" fill="#DD7B31" stroke="#DD7B31"/><polygon points="254.26,215.95 258.61,216.64 262.22,212.91 257.88,212.23" fill="#CC712D" stroke="#CC712D"/><polygon points="265.2,222.5 269.6,223.2 273.2,219.4 268.8,218.7" fill="#B2632B"/><polygon points="276.2,224.2 280.6,224.9 284.1,221.1 279.7,220.4" fill="#B2632B"/><polygon points="291.54,226.64 295.01,222.84 294.96,218.03 291.49,221.81" fill="#A45B27" stroke="#A45B27"/><polygon points="287.14,225.94 291.54,226.64 291.49,221.81 287.08,221.12" fill="#DD7B31" stroke="#DD7B31"/><polygon points="287.08,221.12 291.49,221.81 294.96,218.03 290.57,217.35" fill="#CC712D" stroke="#CC712D"/><polygon points="302.59,228.39 306.01,224.57 305.97,219.76 302.54,223.55" fill="#A45B27" stroke="#A45B27"/><polygon points="298.16,227.69 302.59,228.39 302.54,223.55 298.11,222.86" fill="#DD7B31" stroke="#DD7B31"/><polygon points="298.11,222.86 302.54,223.55 305.97,219.76 301.56,219.07" fill="#CC712D" stroke="#CC712D"/><polygon points="313.68,230.15 317.06,226.31 317.01,216.65 313.62,220.45" fill="#A45B27" stroke="#A45B27"/><polygon points="309.24,229.44 313.68,230.15 313.62,220.45 309.17,219.75" fill="#DD7B31" stroke="#DD7B31"/><polygon points="309.17,219.75 313.62,220.45 317.01,216.65 312.57,215.96" fill="#CC712D" stroke="#CC712D"/><polygon points="324.83,231.91 328.15,228.06 328.12,213.52 324.78,217.32" fill="#A45B27" stroke="#A45B27"/><polygon points="320.36,231.20 324.83,231.91 324.78,217.32 320.30,216.62" fill="#DD7B31" stroke="#DD7B31"/><polygon points="320.30,216.62 324.78,217.32 328.12,213.52 323.66,212.83" fill="#CC712D" stroke="#CC712D"/><polygon points="336.02,233.68 339.30,229.82 339.32,215.25 336.02,219.07" fill="#A45B27" stroke="#A45B27"/><polygon points="331.54,232.97 336.02,233.68 336.02,219.07 331.52,218.37" fill="#DD7B31" stroke="#DD7B31"/><polygon points="331.52,218.37 336.02,219.07 339.32,215.25 334.83,214.56" fill="#CC712D" stroke="#CC712D"/><polygon points="347.27,235.47 350.50,231.58 350.58,212.10 347.33,215.91" fill="#A45B27" stroke="#A45B27"/><polygon points="342.76,234.75 347.27,235.47 347.33,215.91 342.80,215.22" fill="#DD7B31" stroke="#DD7B31"/><polygon points="342.80,215.22 347.33,215.91 350.58,212.10 346.07,211.41" fill="#CC712D" stroke="#CC712D"/><polygon points="354.0,236.5 358.6,237.3 361.8,233.4 357.2,232.6" fill="#B2632B"/><polygon points="369.92,239.05 373.05,235.13 373.10,230.27 369.96,234.17" fill="#A45B27" stroke="#A45B27"/><polygon points="365.37,238.33 369.92,239.05 369.96,234.17 365.41,233.45" fill="#DD7B31" stroke="#DD7B31"/><polygon points="365.41,233.45 369.96,234.17 373.10,230.27 368.57,229.56" fill="#CC712D" stroke="#CC712D"/><polygon points="381.32,240.86 384.41,236.92 384.54,227.16 381.44,231.06" fill="#A45B27" stroke="#A45B27"/><polygon points="376.75,240.14 381.32,240.86 381.44,231.06 376.86,230.34" fill="#DD7B31" stroke="#DD7B31"/><polygon points="376.86,230.34 381.44,231.06 384.54,227.16 379.98,226.45" fill="#CC712D" stroke="#CC712D"/><polygon points="392.77,242.68 395.82,238.72 395.98,228.94 392.93,232.85" fill="#A45B27" stroke="#A45B27"/><polygon points="388.19,241.95 392.77,242.68 392.93,232.85 388.33,232.14" fill="#DD7B31" stroke="#DD7B31"/><polygon points="388.33,232.14 392.93,232.85 395.98,228.94 391.40,228.22" fill="#CC712D" stroke="#CC712D"/><polygon points="404.28,244.50 407.27,240.52 407.37,235.63 404.38,239.59" fill="#A45B27" stroke="#A45B27"/><polygon points="399.67,243.77 404.28,244.50 404.38,239.59 399.76,238.86" fill="#DD7B31" stroke="#DD7B31"/><polygon points="399.76,238.86 404.38,239.59 407.37,235.63 402.77,234.91" fill="#CC712D" stroke="#CC712D"/><polygon points="411.2,245.6 415.8,246.3 418.8,242.3 414.2,241.6" fill="#B2632B"/><polygon points="427.46,248.17 430.35,244.16 430.48,239.25 427.59,243.24" fill="#A45B27" stroke="#A45B27"/><polygon points="422.81,247.43 427.46,248.17 427.59,243.24 422.93,242.51" fill="#DD7B31" stroke="#DD7B31"/><polygon points="422.93,242.51 427.59,243.24 430.48,239.25 425.84,238.52" fill="#CC712D" stroke="#CC712D"/><polygon points="434.5,249.3 439.1,250.0 442.0,246.0 437.3,245.3" fill="#B2632B"/><polygon points="450.86,251.88 453.65,247.83 454.29,228.03 451.49,232.00" fill="#A45B27" stroke="#A45B27"/><polygon points="446.16,251.13 450.86,251.88 451.49,232.00 446.77,231.27" fill="#DD7B31" stroke="#DD7B31"/><polygon points="446.77,231.27 451.49,232.00 454.29,228.03 449.59,227.31" fill="#CC712D" stroke="#CC712D"/><polygon points="462.64,253.74 465.37,249.67 466.08,229.84 463.34,233.83" fill="#A45B27" stroke="#A45B27"/><polygon points="457.92,253.00 462.64,253.74 463.34,233.83 458.59,233.10" fill="#DD7B31" stroke="#DD7B31"/><polygon points="458.59,233.10 463.34,233.83 466.08,229.84 461.36,229.11" fill="#CC712D" stroke="#CC712D"/><polygon points="469.7,254.9 474.5,255.6 477.2,251.5 472.4,250.8" fill="#B2632B"/><polygon points="481.6,256.7 486.4,257.5 489.0,253.4 484.3,252.6" fill="#B2632B"/><polygon points="493.5,258.6 498.3,259.4 500.9,255.3 496.1,254.5" fill="#B2632B"/><polygon points="505.5,260.5 510.3,261.3 512.8,257.2 508.1,256.4" fill="#B2632B"/><polygon points="517.5,262.4 522.4,263.2 524.8,259.0 520.0,258.3" fill="#B2632B"/><polygon points="534.50,265.13 536.91,260.94 537.47,250.94 535.05,255.09" fill="#A45B27" stroke="#A45B27"/><polygon points="529.65,264.36 534.50,265.13 535.05,255.09 530.19,254.33" fill="#DD7B31" stroke="#DD7B31"/><polygon points="530.19,254.33 535.05,255.09 537.47,250.94 532.62,250.19" fill="#CC712D" stroke="#CC712D"/><polygon points="546.68,267.06 549.03,262.85 549.33,257.85 546.97,262.03" fill="#A45B27" stroke="#A45B27"/><polygon points="541.80,266.28 546.68,267.06 546.97,262.03 542.09,261.26" fill="#DD7B31" stroke="#DD7B31"/><polygon points="542.09,261.26 546.97,262.03 549.33,257.85 544.46,257.09" fill="#CC712D" stroke="#CC712D"/><polygon points="558.91,268.99 561.21,264.77 561.52,259.76 559.22,263.96" fill="#A45B27" stroke="#A45B27"/><polygon points="554.01,268.22 558.91,268.99 559.22,263.96 554.32,263.19" fill="#DD7B31" stroke="#DD7B31"/><polygon points="554.32,263.19 559.22,263.96 561.52,259.76 556.64,258.99" fill="#CC712D" stroke="#CC712D"/><polygon points="571.21,270.94 573.45,266.70 573.78,261.68 571.54,265.90" fill="#A45B27" stroke="#A45B27"/><polygon points="566.28,270.16 571.21,270.94 571.54,265.90 566.60,265.12" fill="#DD7B31" stroke="#DD7B31"/><polygon points="566.60,265.12 571.54,265.90 573.78,261.68 568.87,260.91" fill="#CC712D" stroke="#CC712D"/><polygon points="583.56,272.90 585.74,268.64 586.44,258.56 584.26,262.78" fill="#A45B27" stroke="#A45B27"/><polygon points="578.61,272.11 583.56,272.90 584.26,262.78 579.29,262.01" fill="#DD7B31" stroke="#DD7B31"/><polygon points="579.29,262.01 584.26,262.78 586.44,258.56 581.50,257.79" fill="#CC712D" stroke="#CC712D"/><polygon points="595.97,274.86 598.10,270.58 598.46,265.54 596.34,269.81" fill="#A45B27" stroke="#A45B27"/><polygon points="591.00,274.08 595.97,274.86 596.34,269.81 591.36,269.02" fill="#DD7B31" stroke="#DD7B31"/><polygon points="591.36,269.02 596.34,269.81 598.46,265.54 593.51,264.77" fill="#CC712D" stroke="#CC712D"/><polygon points="608.44,276.84 610.51,272.54 610.90,267.49 608.83,271.77" fill="#A45B27" stroke="#A45B27"/><polygon points="603.45,276.05 608.44,276.84 608.83,271.77 603.83,270.98" fill="#DD7B31" stroke="#DD7B31"/><polygon points="603.83,270.98 608.83,271.77 610.90,267.49 605.92,266.71" fill="#CC712D" stroke="#CC712D"/><polygon points="616.0,278.0 621.0,278.8 623.0,274.5 618.0,273.7" fill="#B2632B"/><polygon points="633.57,280.82 635.52,276.48 637.22,256.12 635.27,260.38" fill="#A45B27" stroke="#A45B27"/><polygon points="628.53,280.02 633.57,280.82 635.27,260.38 630.19,259.60" fill="#DD7B31" stroke="#DD7B31"/><polygon points="630.19,259.60 635.27,260.38 637.22,256.12 632.17,255.34" fill="#CC712D" stroke="#CC712D"/><polygon points="159.0,216.4 163.3,217.1 167.3,213.4 163.1,212.7" fill="#247383"/><polygon points="173.90,218.81 177.89,215.09 177.68,210.32 173.68,214.03" fill="#237281" stroke="#237281"/><polygon points="169.64,218.13 173.90,218.81 173.68,214.03 169.43,213.35" fill="#3399B3" stroke="#3399B3"/><polygon points="169.43,213.35 173.68,214.03 177.68,210.32 173.44,209.65" fill="#2B879C" stroke="#2B879C"/><polygon points="180.3,219.8 184.6,220.5 188.5,216.8 184.3,216.1" fill="#247383"/><polygon points="191.0,221.6 195.3,222.2 199.2,218.5 194.9,217.8" fill="#247383"/><polygon points="201.7,223.3 206.0,224.0 209.9,220.2 205.6,219.5" fill="#247383"/><polygon points="216.84,225.71 220.66,221.92 220.51,217.12 216.68,220.89" fill="#237281" stroke="#237281"/><polygon points="212.51,225.02 216.84,225.71 216.68,220.89 212.35,220.20" fill="#3399B3" stroke="#3399B3"/><polygon points="212.35,220.20 216.68,220.89 220.51,217.12 216.19,216.44" fill="#2B879C" stroke="#2B879C"/><polygon points="227.69,227.46 231.47,223.65 231.33,218.84 227.55,222.63" fill="#237281" stroke="#237281"/><polygon points="223.35,226.76 227.69,227.46 227.55,222.63 223.20,221.93" fill="#3399B3" stroke="#3399B3"/><polygon points="223.20,221.93 227.55,222.63 231.33,218.84 227.00,218.15" fill="#2B879C" stroke="#2B879C"/><polygon points="238.60,229.21 242.33,225.39 242.09,215.74 238.34,219.53" fill="#237281" stroke="#237281"/><polygon points="234.23,228.51 238.60,229.21 238.34,219.53 233.96,218.83" fill="#3399B3" stroke="#3399B3"/><polygon points="233.96,218.83 238.34,219.53 242.09,215.74 237.72,215.05" fill="#2B879C" stroke="#2B879C"/><polygon points="245.2,230.3 249.6,231.0 253.2,227.1 248.9,226.4" fill="#247383"/><polygon points="256.2,232.0 260.6,232.7 264.2,228.9 259.8,228.2" fill="#247383"/><polygon points="267.2,233.8 271.6,234.5 275.2,230.6 270.8,229.9" fill="#247383"/><polygon points="278.3,235.6 282.7,236.3 286.3,232.4 281.8,231.7" fill="#247383"/><polygon points="289.4,237.4 293.9,238.1 297.4,234.2 292.9,233.5" fill="#247383"/><polygon points="300.6,239.2 305.1,239.9 308.6,236.0 304.1,235.3" fill="#247383"/><polygon points="311.8,241.0 316.4,241.7 319.8,237.8 315.3,237.0" fill="#247383"/><polygon points="323.1,242.8 327.7,243.5 331.0,239.6 326.5,238.8" fill="#247383"/><polygon points="334.5,244.6 339.0,245.4 342.4,241.4 337.8,240.6" fill="#247383"/><polygon points="345.9,246.5 350.5,247.2 353.7,243.2 349.2,242.5" fill="#247383"/><polygon points="357.3,248.3 361.9,249.0 365.1,245.0 360.6,244.3" fill="#247383"/><polygon points="368.8,250.1 373.5,250.9 376.6,246.8 372.0,246.1" fill="#247383"/><polygon points="380.4,252.0 385.0,252.7 388.2,248.7 383.5,247.9" fill="#247383"/><polygon points="392.0,253.9 396.7,254.6 399.7,250.5 395.1,249.8" fill="#247383"/><polygon points="403.7,255.7 408.4,256.5 411.4,252.4 406.7,251.7" fill="#247383"/><polygon points="415.4,257.6 420.1,258.4 423.1,254.3 418.4,253.5" fill="#247383"/><polygon points="427.2,259.5 431.9,260.3 434.8,256.1 430.1,255.4" fill="#247383"/><polygon points="439.0,261.4 443.8,262.2 446.6,258.0 441.9,257.3" fill="#247383"/><polygon points="450.9,263.3 455.7,264.1 458.5,259.9 453.7,259.2" fill="#247383"/><polygon points="462.9,265.2 467.7,266.0 470.4,261.8 465.6,261.1" fill="#247383"/><polygon points="474.9,267.2 479.7,268.0 482.4,263.7 477.6,263.0" fill="#247383"/><polygon points="486.9,269.1 491.8,269.9 494.4,265.7 489.6,264.9" fill="#247383"/><polygon points="499.0,271.1 503.9,271.8 506.5,267.6 501.6,266.8" fill="#247383"/><polygon points="511.2,273.0 516.1,273.8 518.6,269.5 513.8,268.8" fill="#247383"/><polygon points="523.5,275.0 528.4,275.8 530.8,271.5 525.9,270.7" fill="#247383"/><polygon points="535.8,277.0 540.7,277.8 543.1,273.4 538.2,272.7" fill="#247383"/><polygon points="548.1,278.9 553.1,279.7 555.4,275.4 550.5,274.6" fill="#247383"/><polygon points="565.50,281.74 567.80,277.39 568.13,272.32 565.83,276.65" fill="#237281" stroke="#237281"/><polygon points="560.52,280.94 565.50,281.74 565.83,276.65 560.84,275.85" fill="#3399B3" stroke="#3399B3"/><polygon points="560.84,275.85 565.83,276.65 568.13,272.32 563.16,271.53" fill="#2B879C" stroke="#2B879C"/><polygon points="573.0,282.9 578.0,283.8 580.2,279.4 575.3,278.6" fill="#247383"/><polygon points="585.5,285.0 590.6,285.8 592.7,281.4 587.7,280.6" fill="#247383"/><polygon points="598.1,287.0 603.2,287.8 605.3,283.4 600.3,282.6" fill="#247383"/><polygon points="610.8,289.0 615.9,289.8 617.9,285.4 612.9,284.6" fill="#247383"/><polygon points="623.5,291.1 628.6,291.9 630.6,287.4 625.5,286.6" fill="#247383"/><polygon points="153.03,226.53 157.16,222.73 156.92,217.93 152.78,221.71" fill="#503770" stroke="#503770"/><polygon points="148.75,225.83 153.03,226.53 152.78,221.71 148.50,221.01" fill="#74529C" stroke="#74529C"/><polygon points="148.50,221.01 152.78,221.71 156.92,217.93 152.66,217.24" fill="#583C80" stroke="#583C80"/><polygon points="163.75,228.28 167.84,224.46 167.39,214.83 163.29,218.60" fill="#503770" stroke="#503770"/><polygon points="159.45,227.58 163.75,228.28 163.29,218.60 158.98,217.91" fill="#74529C" stroke="#74529C"/><polygon points="158.98,217.91 163.29,218.60 167.39,214.83 163.10,214.14" fill="#583C80" stroke="#583C80"/><polygon points="174.52,230.03 178.56,226.20 178.35,221.38 174.30,225.19" fill="#503770" stroke="#503770"/><polygon points="170.20,229.33 174.52,230.03 174.30,225.19 169.98,224.49" fill="#74529C" stroke="#74529C"/><polygon points="169.98,224.49 174.30,225.19 178.35,221.38 174.05,220.69" fill="#583C80" stroke="#583C80"/><polygon points="185.33,231.80 189.34,227.95 189.14,223.12 185.13,226.95" fill="#503770" stroke="#503770"/><polygon points="181.00,231.09 185.33,231.80 185.13,226.95 180.79,226.25" fill="#74529C" stroke="#74529C"/><polygon points="180.79,226.25 185.13,226.95 189.14,223.12 184.82,222.42" fill="#583C80" stroke="#583C80"/><polygon points="191.8,232.9 196.2,233.6 200.2,229.7 195.8,229.0" fill="#48346F"/><polygon points="207.12,235.35 211.04,231.47 210.87,226.62 206.95,230.48" fill="#503770" stroke="#503770"/><polygon points="202.75,234.64 207.12,235.35 206.95,230.48 202.57,229.77" fill="#74529C" stroke="#74529C"/><polygon points="202.57,229.77 206.95,230.48 210.87,226.62 206.51,225.92" fill="#583C80" stroke="#583C80"/><polygon points="218.09,237.14 221.96,233.24 221.81,228.38 217.93,232.26" fill="#503770" stroke="#503770"/><polygon points="213.70,236.42 218.09,237.14 217.93,232.26 213.53,231.55" fill="#74529C" stroke="#74529C"/><polygon points="213.53,231.55 217.93,232.26 221.81,228.38 217.43,227.68" fill="#583C80" stroke="#583C80"/><polygon points="229.11,238.93 232.93,235.02 232.66,225.28 228.82,229.16" fill="#503770" stroke="#503770"/><polygon points="224.69,238.21 229.11,238.93 228.82,229.16 224.39,228.44" fill="#74529C" stroke="#74529C"/><polygon points="224.39,228.44 228.82,229.16 232.66,225.28 228.25,224.57" fill="#583C80" stroke="#583C80"/><polygon points="240.18,240.74 243.96,236.80 243.58,222.15 239.79,226.03" fill="#503770" stroke="#503770"/><polygon points="235.74,240.02 240.18,240.74 239.79,226.03 235.34,225.31" fill="#74529C" stroke="#74529C"/><polygon points="235.34,225.31 239.79,226.03 243.58,222.15 239.15,221.44" fill="#583C80" stroke="#583C80"/><polygon points="246.8,241.8 251.3,242.6 255.0,238.6 250.6,237.9" fill="#48346F"/><polygon points="258.0,243.6 262.5,244.4 266.2,240.4 261.7,239.7" fill="#48346F"/><polygon points="269.2,245.5 273.7,246.2 277.3,242.2 272.9,241.5" fill="#48346F"/><polygon points="284.97,248.04 288.56,244.03 288.04,204.39 284.41,208.25" fill="#503770" stroke="#503770"/><polygon points="280.45,247.31 284.97,248.04 284.41,208.25 279.84,207.54" fill="#74529C" stroke="#74529C"/><polygon points="279.84,207.54 284.41,208.25 288.04,204.39 283.50,203.69" fill="#583C80" stroke="#583C80"/><polygon points="296.30,249.89 299.84,245.86 299.60,221.14 296.03,225.07" fill="#503770" stroke="#503770"/><polygon points="291.76,249.15 296.30,249.89 296.03,225.07 291.46,224.35" fill="#74529C" stroke="#74529C"/><polygon points="291.46,224.35 296.03,225.07 299.60,221.14 295.05,220.43" fill="#583C80" stroke="#583C80"/><polygon points="307.68,251.74 311.18,247.70 310.97,217.94 307.45,221.87" fill="#503770" stroke="#503770"/><polygon points="303.12,251.00 307.68,251.74 307.45,221.87 302.85,221.15" fill="#74529C" stroke="#74529C"/><polygon points="302.85,221.15 307.45,221.87 310.97,217.94 306.40,217.23" fill="#583C80" stroke="#583C80"/><polygon points="319.12,253.61 322.56,249.54 322.53,239.66 319.07,243.69" fill="#503770" stroke="#503770"/><polygon points="314.54,252.86 319.12,253.61 319.07,243.69 314.48,242.95" fill="#74529C" stroke="#74529C"/><polygon points="314.48,242.95 319.07,243.69 322.53,239.66 317.95,238.93" fill="#583C80" stroke="#583C80"/><polygon points="330.61,255.48 334.00,251.40 334.00,241.50 330.59,245.54" fill="#503770" stroke="#503770"/><polygon points="326.00,254.73 330.61,255.48 330.59,245.54 325.98,244.80" fill="#74529C" stroke="#74529C"/><polygon points="325.98,244.80 330.59,245.54 334.00,241.50 329.40,240.76" fill="#583C80" stroke="#583C80"/><polygon points="342.15,257.36 345.50,253.26 345.55,233.37 342.18,237.39" fill="#503770" stroke="#503770"/><polygon points="337.53,256.61 342.15,257.36 342.18,237.39 337.53,236.65" fill="#74529C" stroke="#74529C"/><polygon points="337.53,236.65 342.18,237.39 345.55,233.37 340.92,232.64" fill="#583C80" stroke="#583C80"/><polygon points="349.1,258.5 353.7,259.3 357.0,255.1 352.4,254.4" fill="#48346F"/><polygon points="360.7,260.4 365.4,261.2 368.6,257.0 364.0,256.3" fill="#48346F"/><polygon points="377.11,263.06 380.30,258.90 380.49,243.92 377.28,248.02" fill="#503770" stroke="#503770"/><polygon points="372.42,262.30 377.11,263.06 377.28,248.02 372.57,247.27" fill="#74529C" stroke="#74529C"/><polygon points="372.57,247.27 377.28,248.02 380.49,243.92 375.80,243.18" fill="#583C80" stroke="#583C80"/><polygon points="388.87,264.98 392.02,260.80 392.33,240.76 389.17,244.86" fill="#503770" stroke="#503770"/><polygon points="384.16,264.21 388.87,264.98 389.17,244.86 384.43,244.11" fill="#74529C" stroke="#74529C"/><polygon points="384.43,244.11 389.17,244.86 392.33,240.76 387.61,240.02" fill="#583C80" stroke="#583C80"/><polygon points="400.69,266.91 403.78,262.71 404.16,242.63 401.06,246.75" fill="#503770" stroke="#503770"/><polygon points="395.96,266.14 400.69,266.91 401.06,246.75 396.29,246.00" fill="#74529C" stroke="#74529C"/><polygon points="396.29,246.00 401.06,246.75 404.16,242.63 399.42,241.88" fill="#583C80" stroke="#583C80"/><polygon points="412.57,268.85 415.61,264.63 416.62,219.05 413.54,223.09" fill="#503770" stroke="#503770"/><polygon points="407.81,268.07 412.57,268.85 413.54,223.09 408.73,222.35" fill="#74529C" stroke="#74529C"/><polygon points="408.73,222.35 413.54,223.09 416.62,219.05 411.82,218.32" fill="#583C80" stroke="#583C80"/><polygon points="424.50,270.79 427.49,266.55 427.87,251.46 424.88,255.64" fill="#503770" stroke="#503770"/><polygon points="419.72,270.01 424.50,270.79 424.88,255.64 420.08,254.87" fill="#74529C" stroke="#74529C"/><polygon points="420.08,254.87 424.88,255.64 427.87,251.46 423.09,250.70" fill="#583C80" stroke="#583C80"/><polygon points="436.49,272.75 439.43,268.49 440.59,227.88 437.64,231.98" fill="#503770" stroke="#503770"/><polygon points="431.69,271.96 436.49,272.75 437.64,231.98 432.78,231.22" fill="#74529C" stroke="#74529C"/><polygon points="432.78,231.22 437.64,231.98 440.59,227.88 435.76,227.13" fill="#583C80" stroke="#583C80"/><polygon points="448.54,274.71 451.42,270.43 452.56,234.88 449.66,239.02" fill="#503770" stroke="#503770"/><polygon points="443.72,273.92 448.54,274.71 449.66,239.02 444.79,238.26" fill="#74529C" stroke="#74529C"/><polygon points="444.79,238.26 449.66,239.02 452.56,234.88 447.71,234.13" fill="#583C80" stroke="#583C80"/><polygon points="460.65,276.69 463.47,272.39 464.55,241.90 461.71,246.08" fill="#503770" stroke="#503770"/><polygon points="455.80,275.89 460.65,276.69 461.71,246.08 456.82,245.31" fill="#74529C" stroke="#74529C"/><polygon points="456.82,245.31 461.71,246.08 464.55,241.90 459.68,241.14" fill="#583C80" stroke="#583C80"/><polygon points="472.82,278.67 475.58,274.35 477.37,228.34 474.58,232.48" fill="#503770" stroke="#503770"/><polygon points="467.94,277.87 472.82,278.67 474.58,232.48 469.64,231.72" fill="#74529C" stroke="#74529C"/><polygon points="469.64,231.72 474.58,232.48 477.37,228.34 472.46,227.59" fill="#583C80" stroke="#583C80"/><polygon points="485.04,280.66 487.75,276.32 489.70,230.23 486.97,234.38" fill="#503770" stroke="#503770"/><polygon points="480.14,279.86 485.04,280.66 486.97,234.38 482.00,233.62" fill="#74529C" stroke="#74529C"/><polygon points="482.00,233.62 486.97,234.38 489.70,230.23 484.76,229.47" fill="#583C80" stroke="#583C80"/><polygon points="497.32,282.66 499.98,278.30 502.09,232.12 499.41,236.30" fill="#503770" stroke="#503770"/><polygon points="492.40,281.86 497.32,282.66 499.41,236.30 494.43,235.53" fill="#74529C" stroke="#74529C"/><polygon points="494.43,235.53 499.41,236.30 502.09,232.12 497.13,231.36" fill="#583C80" stroke="#583C80"/><polygon points="509.67,284.68 512.26,280.29 514.54,234.02 511.92,238.22" fill="#503770" stroke="#503770"/><polygon points="504.72,283.87 509.67,284.68 511.92,238.22 506.91,237.45" fill="#74529C" stroke="#74529C"/><polygon points="506.91,237.45 511.92,238.22 514.54,234.02 509.55,233.26" fill="#583C80" stroke="#583C80"/><polygon points="522.07,286.70 524.61,282.30 527.60,225.47 525.04,229.64" fill="#503770" stroke="#503770"/><polygon points="517.10,285.89 522.07,286.70 525.04,229.64 519.99,228.88" fill="#74529C" stroke="#74529C"/><polygon points="519.99,228.88 525.04,229.64 527.60,225.47 522.58,224.71" fill="#583C80" stroke="#583C80"/><polygon points="534.54,288.73 537.02,284.31 537.59,274.09 535.11,278.47" fill="#503770" stroke="#503770"/><polygon points="529.54,287.92 534.54,288.73 535.11,278.47 530.10,277.67" fill="#74529C" stroke="#74529C"/><polygon points="530.10,277.67 535.11,278.47 537.59,274.09 532.61,273.29" fill="#583C80" stroke="#583C80"/><polygon points="547.06,290.77 549.48,286.33 550.40,270.95 547.98,275.33" fill="#503770" stroke="#503770"/><polygon points="542.05,289.96 547.06,290.77 547.98,275.33 542.94,274.53" fill="#74529C" stroke="#74529C"/><polygon points="542.94,274.53 547.98,275.33 550.40,270.95 545.38,270.15" fill="#583C80" stroke="#583C80"/><polygon points="559.65,292.83 562.01,288.36 562.99,272.95 560.62,277.36" fill="#503770" stroke="#503770"/><polygon points="554.61,292.00 559.65,292.83 560.62,277.36 555.56,276.55" fill="#74529C" stroke="#74529C"/><polygon points="555.56,276.55 560.62,277.36 562.99,272.95 557.94,272.15" fill="#583C80" stroke="#583C80"/><polygon points="572.30,294.89 574.60,290.40 575.63,274.96 573.33,279.39" fill="#503770" stroke="#503770"/><polygon points="567.23,294.06 572.30,294.89 573.33,279.39 568.24,278.58" fill="#74529C" stroke="#74529C"/><polygon points="568.24,278.58 573.33,279.39 575.63,274.96 570.57,274.16" fill="#583C80" stroke="#583C80"/><polygon points="585.01,296.96 587.25,292.45 588.34,276.98 586.10,281.43" fill="#503770" stroke="#503770"/><polygon points="579.92,296.13 585.01,296.96 586.10,281.43 580.98,280.62" fill="#74529C" stroke="#74529C"/><polygon points="580.98,280.62 586.10,281.43 588.34,276.98 583.25,276.17" fill="#583C80" stroke="#583C80"/><polygon points="597.79,299.05 599.97,294.51 601.50,273.82 599.32,278.27" fill="#503770" stroke="#503770"/><polygon points="592.67,298.21 597.79,299.05 599.32,278.27 594.17,277.45" fill="#74529C" stroke="#74529C"/><polygon points="594.17,277.45 599.32,278.27 601.50,273.82 596.37,273.01" fill="#583C80" stroke="#583C80"/><polygon points="610.63,301.14 612.74,296.58 613.14,291.42 611.03,295.96" fill="#503770" stroke="#503770"/><polygon points="605.49,300.30 610.63,301.14 611.03,295.96 605.88,295.12" fill="#74529C" stroke="#74529C"/><polygon points="605.88,295.12 611.03,295.96 613.14,291.42 608.02,290.60" fill="#583C80" stroke="#583C80"/><polygon points="618.4,302.4 623.5,303.2 625.6,298.7 620.4,297.8" fill="#48346F"/><polygon points="138.2,235.5 142.5,236.2 146.8,232.3 142.5,231.6" fill="#5A8032"/><polygon points="153.35,237.97 157.54,234.07 157.30,229.21 153.10,233.10" fill="#5F8036" stroke="#5F8036"/><polygon points="149.01,237.26 153.35,237.97 153.10,233.10 148.76,232.38" fill="#8AAD49" stroke="#8AAD49"/><polygon points="148.76,232.38 153.10,233.10 157.30,229.21 152.97,228.50" fill="#9ABB62" stroke="#9ABB62"/><polygon points="159.9,239.1 164.2,239.8 168.4,235.8 164.0,235.1" fill="#5A8032"/><polygon points="175.15,241.58 179.26,237.64 178.83,227.88 174.72,231.78" fill="#5F8036" stroke="#5F8036"/><polygon points="170.78,240.86 175.15,241.58 174.72,231.78 170.33,231.06" fill="#8AAD49" stroke="#8AAD49"/><polygon points="170.33,231.06 174.72,231.78 178.83,227.88 174.46,227.17" fill="#9ABB62" stroke="#9ABB62"/><polygon points="186.13,243.40 190.19,239.44 189.99,234.55 185.93,238.50" fill="#5F8036" stroke="#5F8036"/><polygon points="181.74,242.67 186.13,243.40 185.93,238.50 181.53,237.77" fill="#8AAD49" stroke="#8AAD49"/><polygon points="181.53,237.77 185.93,238.50 189.99,234.55 185.61,233.84" fill="#9ABB62" stroke="#9ABB62"/><polygon points="192.7,244.5 197.2,245.2 201.2,241.2 196.8,240.5" fill="#5A8032"/><polygon points="203.8,246.3 208.2,247.1 212.2,243.1 207.8,242.3" fill="#5A8032"/><polygon points="219.38,248.90 223.30,244.88 223.14,239.97 219.22,243.97" fill="#5F8036" stroke="#5F8036"/><polygon points="214.92,248.16 219.38,248.90 219.22,243.97 214.75,243.24" fill="#8AAD49" stroke="#8AAD49"/><polygon points="214.75,243.24 219.22,243.97 223.14,239.97 218.70,239.25" fill="#9ABB62" stroke="#9ABB62"/><polygon points="230.56,250.75 234.44,246.72 234.30,241.80 230.42,245.81" fill="#5F8036" stroke="#5F8036"/><polygon points="226.08,250.01 230.56,250.75 230.42,245.81 225.93,245.07" fill="#8AAD49" stroke="#8AAD49"/><polygon points="225.93,245.07 230.42,245.81 234.30,241.80 229.83,241.07" fill="#9ABB62" stroke="#9ABB62"/><polygon points="237.3,251.9 241.8,252.6 245.6,248.6 241.1,247.8" fill="#5A8032"/><polygon points="248.6,253.7 253.1,254.5 256.9,250.4 252.4,249.7" fill="#5A8032"/><polygon points="259.9,255.6 264.4,256.4 268.2,252.3 263.6,251.5" fill="#5A8032"/><polygon points="271.3,257.5 275.8,258.2 279.5,254.1 275.0,253.4" fill="#5A8032"/><polygon points="282.7,259.4 287.3,260.1 290.9,256.0 286.3,255.3" fill="#5A8032"/><polygon points="294.2,261.3 298.8,262.0 302.4,257.9 297.8,257.1" fill="#5A8032"/><polygon points="310.34,263.95 313.88,259.78 313.79,244.79 310.24,248.90" fill="#5F8036" stroke="#5F8036"/><polygon points="305.71,263.18 310.34,263.95 310.24,248.90 305.59,248.15" fill="#8AAD49" stroke="#8AAD49"/><polygon points="305.59,248.15 310.24,248.90 313.79,244.79 309.16,244.05" fill="#9ABB62" stroke="#9ABB62"/><polygon points="317.3,265.1 322.0,265.9 325.4,261.7 320.8,260.9" fill="#5A8032"/><polygon points="329.0,267.0 333.6,267.8 337.1,263.6 332.4,262.8" fill="#5A8032"/><polygon points="340.7,269.0 345.4,269.7 348.7,265.5 344.1,264.7" fill="#5A8032"/><polygon points="352.4,270.9 357.1,271.7 360.5,267.4 355.8,266.7" fill="#5A8032"/><polygon points="364.2,272.9 369.0,273.7 372.3,269.4 367.5,268.6" fill="#5A8032"/><polygon points="376.1,274.8 380.9,275.6 384.1,271.3 379.4,270.6" fill="#5A8032"/><polygon points="388.0,276.8 392.8,277.6 396.0,273.3 391.2,272.5" fill="#5A8032"/><polygon points="400.0,278.8 404.8,279.6 408.0,275.3 403.2,274.5" fill="#5A8032"/><polygon points="412.1,280.8 416.9,281.6 420.0,277.2 415.2,276.4" fill="#5A8032"/><polygon points="424.2,282.8 429.0,283.6 432.0,279.2 427.2,278.4" fill="#5A8032"/><polygon points="436.3,284.8 441.2,285.6 444.2,281.2 439.3,280.4" fill="#5A8032"/><polygon points="448.6,286.8 453.5,287.6 456.4,283.2 451.5,282.4" fill="#5A8032"/><polygon points="460.8,288.9 465.8,289.7 468.6,285.2 463.7,284.4" fill="#5A8032"/><polygon points="473.2,290.9 478.1,291.7 480.9,287.3 476.0,286.4" fill="#5A8032"/><polygon points="485.6,292.9 490.6,293.8 493.3,289.3 488.3,288.5" fill="#5A8032"/><polygon points="498.1,295.0 503.1,295.8 505.7,291.3 500.7,290.5" fill="#5A8032"/><polygon points="510.6,297.1 515.6,297.9 518.2,293.4 513.2,292.6" fill="#5A8032"/><polygon points="523.2,299.2 528.2,300.0 530.8,295.5 525.7,294.6" fill="#5A8032"/><polygon points="535.8,301.3 540.9,302.1 543.4,297.5 538.3,296.7" fill="#5A8032"/><polygon points="548.5,303.4 553.6,304.2 556.1,299.6 551.0,298.8" fill="#5A8032"/><polygon points="561.3,305.5 566.4,306.3 568.8,301.7 563.7,300.9" fill="#5A8032"/><polygon points="579.32,308.45 581.61,303.82 582.33,293.42 580.03,298.01" fill="#5F8036" stroke="#5F8036"/><polygon points="574.16,307.60 579.32,308.45 580.03,298.01 574.86,297.17" fill="#8AAD49" stroke="#8AAD49"/><polygon points="574.86,297.17 580.03,298.01 582.33,293.42 577.19,292.58" fill="#9ABB62" stroke="#9ABB62"/><polygon points="587.1,309.7 592.2,310.6 594.5,305.9 589.3,305.1" fill="#5A8032"/><polygon points="600.0,311.9 605.2,312.7 607.4,308.1 602.2,307.2" fill="#5A8032"/><polygon points="613.1,314.0 618.3,314.9 620.4,310.2 615.2,309.3" fill="#5A8032"/><polygon points="127.4,245.3 131.8,246.1 136.1,242.1 131.7,241.4" fill="#8A302D"/><polygon points="138.3,247.2 142.7,247.9 147.0,243.9 142.6,243.2" fill="#8A302D"/><polygon points="149.3,249.0 153.7,249.8 157.9,245.7 153.5,245.0" fill="#8A302D"/><polygon points="160.3,250.9 164.7,251.6 168.9,247.6 164.5,246.8" fill="#8A302D"/><polygon points="171.4,252.7 175.8,253.5 180.0,249.4 175.5,248.7" fill="#8A302D"/><polygon points="182.5,254.6 187.0,255.3 191.1,251.3 186.6,250.5" fill="#8A302D"/><polygon points="198.15,257.23 202.22,253.13 202.04,248.18 197.96,252.26" fill="#802A27" stroke="#802A27"/><polygon points="193.67,256.47 198.15,257.23 197.96,252.26 193.47,251.51" fill="#B23F3B" stroke="#B23F3B"/><polygon points="193.47,251.51 197.96,252.26 202.04,248.18 197.56,247.44" fill="#94302D" stroke="#94302D"/><polygon points="204.9,258.4 209.4,259.1 213.4,255.0 208.9,254.3" fill="#8A302D"/><polygon points="216.2,260.3 220.7,261.0 224.7,256.9 220.2,256.1" fill="#8A302D"/><polygon points="227.5,262.2 232.1,262.9 236.0,258.8 231.5,258.0" fill="#8A302D"/><polygon points="238.9,264.1 243.5,264.8 247.3,260.7 242.8,259.9" fill="#8A302D"/><polygon points="250.3,266.0 254.9,266.8 258.8,262.6 254.2,261.8" fill="#8A302D"/><polygon points="261.8,267.9 266.5,268.7 270.2,264.5 265.6,263.7" fill="#8A302D"/><polygon points="273.4,269.9 278.0,270.6 281.8,266.4 277.1,265.6" fill="#8A302D"/><polygon points="285.0,271.8 289.7,272.6 293.3,268.3 288.7,267.6" fill="#8A302D"/><polygon points="296.7,273.8 301.3,274.6 305.0,270.3 300.3,269.5" fill="#8A302D"/><polygon points="308.4,275.7 313.1,276.5 316.7,272.2 312.0,271.5" fill="#8A302D"/><polygon points="320.2,277.7 324.9,278.5 328.4,274.2 323.7,273.4" fill="#8A302D"/><polygon points="332.0,279.7 336.7,280.5 340.2,276.2 335.5,275.4" fill="#8A302D"/><polygon points="343.9,281.7 348.7,282.5 352.1,278.1 347.3,277.4" fill="#8A302D"/><polygon points="355.8,283.7 360.6,284.5 364.0,280.1 359.2,279.3" fill="#8A302D"/><polygon points="367.8,285.7 372.7,286.5 376.0,282.1 371.2,281.3" fill="#8A302D"/><polygon points="379.9,287.8 384.7,288.6 388.0,284.1 383.2,283.3" fill="#8A302D"/><polygon points="392.0,289.8 396.9,290.6 400.1,286.2 395.3,285.4" fill="#8A302D"/><polygon points="404.2,291.8 409.1,292.7 412.2,288.2 407.4,287.4" fill="#8A302D"/><polygon points="421.37,294.72 424.46,290.23 424.84,274.81 421.74,279.23" fill="#802A27" stroke="#802A27"/><polygon points="416.46,293.89 421.37,294.72 421.74,279.23 416.81,278.42" fill="#B23F3B" stroke="#B23F3B"/><polygon points="416.81,278.42 421.74,279.23 424.84,274.81 419.93,274.00" fill="#94302D" stroke="#94302D"/><polygon points="428.8,296.0 433.7,296.8 436.7,292.3 431.8,291.5" fill="#8A302D"/><polygon points="441.1,298.0 446.1,298.9 449.1,294.3 444.1,293.5" fill="#8A302D"/><polygon points="453.6,300.1 458.5,301.0 461.5,296.4 456.5,295.6" fill="#8A302D"/><polygon points="466.0,302.2 471.1,303.1 473.9,298.5 468.9,297.7" fill="#8A302D"/><polygon points="478.6,304.3 483.6,305.2 486.4,300.6 481.4,299.7" fill="#8A302D"/><polygon points="491.2,306.4 496.3,307.3 499.0,302.7 494.0,301.8" fill="#8A302D"/><polygon points="503.9,308.6 509.0,309.4 511.7,304.8 506.6,303.9" fill="#8A302D"/><polygon points="516.6,310.7 521.7,311.6 524.4,306.9 519.3,306.1" fill="#8A302D"/><polygon points="529.4,312.9 534.6,313.7 537.1,309.0 532.0,308.2" fill="#8A302D"/><polygon points="542.3,315.0 547.5,315.9 550.0,311.2 544.8,310.3" fill="#8A302D"/><polygon points="555.2,317.2 560.4,318.1 562.9,313.3 557.7,312.5" fill="#8A302D"/><polygon points="568.2,319.4 573.5,320.3 575.8,315.5 570.6,314.6" fill="#8A302D"/><polygon points="581.3,321.6 586.6,322.5 588.9,317.7 583.6,316.8" fill="#8A302D"/><polygon points="594.4,323.8 599.7,324.7 601.9,319.9 596.7,319.0" fill="#8A302D"/><polygon points="607.6,326.0 612.9,326.9 615.1,322.1 609.8,321.2" fill="#8A302D"/><polygon points="120.72,256.22 125.17,252.13 124.59,242.23 120.12,246.28" fill="#264C82" stroke="#264C82"/><polygon points="116.31,255.47 120.72,256.22 120.12,246.28 115.71,245.54" fill="#3F6EB0" stroke="#3F6EB0"/><polygon points="115.71,245.54 120.12,246.28 124.59,242.23 120.19,241.50" fill="#2F5B91" stroke="#2F5B91"/><polygon points="131.77,258.10 136.17,254.00 135.34,239.10 130.92,243.15" fill="#264C82" stroke="#264C82"/><polygon points="127.34,257.35 131.77,258.10 130.92,243.15 126.48,242.40" fill="#3F6EB0" stroke="#3F6EB0"/><polygon points="126.48,242.40 130.92,243.15 135.34,239.10 130.92,238.36" fill="#2F5B91" stroke="#2F5B91"/><polygon points="142.87,260.00 147.23,255.87 146.97,250.91 142.60,255.01" fill="#264C82" stroke="#264C82"/><polygon points="138.42,259.24 142.87,260.00 142.60,255.01 138.15,254.26" fill="#3F6EB0" stroke="#3F6EB0"/><polygon points="138.15,254.26 142.60,255.01 146.97,250.91 142.53,250.16" fill="#2F5B91" stroke="#2F5B91"/><polygon points="149.6,261.1 154.0,261.9 158.3,257.8 153.9,257.0" fill="#24497C"/><polygon points="165.23,263.81 169.49,259.64 169.03,249.67 164.75,253.80" fill="#264C82" stroke="#264C82"/><polygon points="160.74,263.04 165.23,263.81 164.75,253.80 160.25,253.04" fill="#3F6EB0" stroke="#3F6EB0"/><polygon points="160.25,253.04 164.75,253.80 169.03,249.67 164.55,248.92" fill="#2F5B91" stroke="#2F5B91"/><polygon points="176.49,265.73 180.71,261.54 180.49,256.56 176.27,260.72" fill="#264C82" stroke="#264C82"/><polygon points="171.98,264.96 176.49,265.73 176.27,260.72 171.75,259.95" fill="#3F6EB0" stroke="#3F6EB0"/><polygon points="171.75,259.95 176.27,260.72 180.49,256.56 175.99,255.80" fill="#2F5B91" stroke="#2F5B91"/><polygon points="187.80,267.66 191.97,263.45 191.57,253.44 187.39,257.61" fill="#264C82" stroke="#264C82"/><polygon points="183.27,266.88 187.80,267.66 187.39,257.61 182.84,256.84" fill="#3F6EB0" stroke="#3F6EB0"/><polygon points="182.84,256.84 187.39,257.61 191.57,253.44 187.05,252.69" fill="#2F5B91" stroke="#2F5B91"/><polygon points="199.17,269.60 203.29,265.37 202.92,255.34 198.79,259.53" fill="#264C82" stroke="#264C82"/><polygon points="194.62,268.82 199.17,269.60 198.79,259.53 194.22,258.76" fill="#3F6EB0" stroke="#3F6EB0"/><polygon points="194.22,258.76 198.79,259.53 202.92,255.34 198.38,254.58" fill="#2F5B91" stroke="#2F5B91"/><polygon points="210.59,271.54 214.67,267.30 214.33,257.25 210.24,261.46" fill="#264C82" stroke="#264C82"/><polygon points="206.02,270.76 210.59,271.54 210.24,261.46 205.65,260.68" fill="#3F6EB0" stroke="#3F6EB0"/><polygon points="205.65,260.68 210.24,261.46 214.33,257.25 209.76,256.49" fill="#2F5B91" stroke="#2F5B91"/><polygon points="222.07,273.50 226.10,269.24 225.48,249.05 221.43,253.23" fill="#264C82" stroke="#264C82"/><polygon points="217.47,272.72 222.07,273.50 221.43,253.23 216.80,252.46" fill="#3F6EB0" stroke="#3F6EB0"/><polygon points="216.80,252.46 221.43,253.23 225.48,249.05 220.88,248.29" fill="#2F5B91" stroke="#2F5B91"/><polygon points="233.60,275.47 237.58,271.18 237.30,261.10 233.31,265.34" fill="#264C82" stroke="#264C82"/><polygon points="228.98,274.68 233.60,275.47 233.31,265.34 228.68,264.56" fill="#3F6EB0" stroke="#3F6EB0"/><polygon points="228.68,264.56 233.31,265.34 237.30,261.10 232.69,260.33" fill="#2F5B91" stroke="#2F5B91"/><polygon points="240.5,276.7 245.2,277.4 249.1,273.1 244.5,272.4" fill="#24497C"/><polygon points="252.2,278.6 256.8,279.4 260.7,275.1 256.1,274.3" fill="#24497C"/><polygon points="268.54,281.42 272.36,277.08 272.09,261.84 268.25,266.13" fill="#264C82" stroke="#264C82"/><polygon points="263.85,280.62 268.54,281.42 268.25,266.13 263.54,265.34" fill="#3F6EB0" stroke="#3F6EB0"/><polygon points="263.54,265.34 268.25,266.13 272.09,261.84 267.41,261.07" fill="#2F5B91" stroke="#2F5B91"/><polygon points="280.29,283.43 284.07,279.06 283.92,268.90 280.14,273.23" fill="#264C82" stroke="#264C82"/><polygon points="275.58,282.62 280.29,283.43 280.14,273.23 275.41,272.43" fill="#3F6EB0" stroke="#3F6EB0"/><polygon points="275.41,272.43 280.14,273.23 283.92,268.90 279.22,268.11" fill="#2F5B91" stroke="#2F5B91"/><polygon points="292.11,285.44 295.83,281.05 295.72,270.88 291.98,275.22" fill="#264C82" stroke="#264C82"/><polygon points="287.38,284.63 292.11,285.44 291.98,275.22 287.24,274.42" fill="#3F6EB0" stroke="#3F6EB0"/><polygon points="287.24,274.42 291.98,275.22 295.72,270.88 290.99,270.09" fill="#2F5B91" stroke="#2F5B91"/><polygon points="303.98,287.47 307.65,283.06 307.49,262.60 303.80,266.93" fill="#264C82" stroke="#264C82"/><polygon points="299.23,286.65 303.98,287.47 303.80,266.93 299.02,266.14" fill="#3F6EB0" stroke="#3F6EB0"/><polygon points="299.02,266.14 303.80,266.93 307.49,262.60 302.73,261.82" fill="#2F5B91" stroke="#2F5B91"/><polygon points="315.91,289.50 319.53,285.07 319.44,264.58 315.80,268.93" fill="#264C82" stroke="#264C82"/><polygon points="311.13,288.69 315.91,289.50 315.80,268.93 310.99,268.13" fill="#3F6EB0" stroke="#3F6EB0"/><polygon points="310.99,268.13 315.80,268.93 319.44,264.58 314.65,263.79" fill="#2F5B91" stroke="#2F5B91"/><polygon points="327.90,291.54 331.47,287.09 331.43,261.39 327.85,265.74" fill="#264C82" stroke="#264C82"/><polygon points="323.10,290.73 327.90,291.54 327.85,265.74 323.01,264.94" fill="#3F6EB0" stroke="#3F6EB0"/><polygon points="323.01,264.94 327.85,265.74 331.43,261.39 326.62,260.60" fill="#2F5B91" stroke="#2F5B91"/><polygon points="339.95,293.60 343.46,289.13 343.51,263.38 339.98,267.75" fill="#264C82" stroke="#264C82"/><polygon points="335.13,292.78 339.95,293.60 339.98,267.75 335.12,266.94" fill="#3F6EB0" stroke="#3F6EB0"/><polygon points="335.12,266.94 339.98,267.75 343.51,263.38 338.68,262.58" fill="#2F5B91" stroke="#2F5B91"/><polygon points="347.2,294.8 352.1,295.7 355.5,291.2 350.7,290.4" fill="#24497C"/><polygon points="359.4,296.9 364.2,297.7 367.6,293.2 362.8,292.4" fill="#24497C"/><polygon points="371.6,299.0 376.5,299.8 379.8,295.3 374.9,294.5" fill="#24497C"/><polygon points="383.8,301.1 388.7,301.9 392.0,297.4 387.1,296.5" fill="#24497C"/><polygon points="396.2,303.2 401.1,304.0 404.3,299.4 399.4,298.6" fill="#24497C"/><polygon points="413.51,306.14 416.68,301.53 417.39,270.23 414.20,274.71" fill="#264C82" stroke="#264C82"/><polygon points="408.54,305.29 413.51,306.14 414.20,274.71 409.18,273.89" fill="#3F6EB0" stroke="#3F6EB0"/><polygon points="409.18,273.89 414.20,274.71 417.39,270.23 412.40,269.42" fill="#2F5B91" stroke="#2F5B91"/><polygon points="421.0,307.4 426.0,308.3 429.1,303.6 424.1,302.8" fill="#24497C"/><polygon points="433.5,309.5 438.5,310.4 441.6,305.8 436.6,304.9" fill="#24497C"/><polygon points="451.12,312.55 454.12,307.88 454.81,286.95 451.80,291.54" fill="#264C82" stroke="#264C82"/><polygon points="446.07,311.69 451.12,312.55 451.80,291.54 446.73,290.70" fill="#3F6EB0" stroke="#3F6EB0"/><polygon points="446.73,290.70 451.80,291.54 454.81,286.95 449.76,286.12" fill="#2F5B91" stroke="#2F5B91"/><polygon points="463.79,314.71 466.72,310.01 467.49,289.05 464.54,293.66" fill="#264C82" stroke="#264C82"/><polygon points="458.71,313.85 463.79,314.71 464.54,293.66 459.44,292.81" fill="#3F6EB0" stroke="#3F6EB0"/><polygon points="459.44,292.81 464.54,293.66 467.49,289.05 462.41,288.21" fill="#2F5B91" stroke="#2F5B91"/><polygon points="476.51,316.88 479.39,312.16 480.45,285.86 477.56,290.48" fill="#264C82" stroke="#264C82"/><polygon points="471.42,316.01 476.51,316.88 477.56,290.48 472.42,289.63" fill="#3F6EB0" stroke="#3F6EB0"/><polygon points="472.42,289.63 477.56,290.48 480.45,285.86 475.34,285.03" fill="#2F5B91" stroke="#2F5B91"/><polygon points="489.31,319.06 492.12,314.32 492.81,298.56 489.99,303.24" fill="#264C82" stroke="#264C82"/><polygon points="484.18,318.19 489.31,319.06 489.99,303.24 484.84,302.38" fill="#3F6EB0" stroke="#3F6EB0"/><polygon points="484.84,302.38 489.99,303.24 492.81,298.56 487.69,297.70" fill="#2F5B91" stroke="#2F5B91"/><polygon points="502.17,321.26 504.91,316.49 505.41,305.97 502.66,310.70" fill="#264C82" stroke="#264C82"/><polygon points="497.01,320.38 502.17,321.26 502.66,310.70 497.49,309.83" fill="#3F6EB0" stroke="#3F6EB0"/><polygon points="497.49,309.83 502.66,310.70 505.41,305.97 500.27,305.11" fill="#2F5B91" stroke="#2F5B91"/><polygon points="509.9,322.6 515.1,323.5 517.8,318.7 512.6,317.8" fill="#24497C"/><polygon points="522.9,324.8 528.1,325.7 530.7,320.9 525.5,320.0" fill="#24497C"/><polygon points="535.9,327.0 541.1,327.9 543.7,323.1 538.5,322.2" fill="#24497C"/><polygon points="549.0,329.2 554.3,330.1 556.7,325.3 551.5,324.4" fill="#24497C"/><polygon points="567.45,332.39 569.87,327.50 570.22,322.20 567.80,327.07" fill="#264C82" stroke="#264C82"/><polygon points="562.16,331.49 567.45,332.39 567.80,327.07 562.50,326.17" fill="#3F6EB0" stroke="#3F6EB0"/><polygon points="562.50,326.17 567.80,327.07 570.22,322.20 564.96,321.31" fill="#2F5B91" stroke="#2F5B91"/><polygon points="580.71,334.65 583.07,329.73 583.44,324.42 581.08,329.32" fill="#264C82" stroke="#264C82"/><polygon points="575.39,333.74 580.71,334.65 581.08,329.32 575.76,328.41" fill="#3F6EB0" stroke="#3F6EB0"/><polygon points="575.76,328.41 581.08,329.32 583.44,324.42 578.14,323.53" fill="#2F5B91" stroke="#2F5B91"/><polygon points="588.7,336.0 594.0,336.9 596.3,332.0 591.0,331.1" fill="#24497C"/><polygon points="602.1,338.3 607.4,339.2 609.7,334.2 604.3,333.3" fill="#24497C"/><polygon points="104.9,265.8 109.4,266.6 114.0,262.4 109.5,261.7" fill="#B2632B"/><polygon points="116.1,267.8 120.6,268.6 125.1,264.3 120.6,263.6" fill="#B2632B"/><polygon points="127.3,269.7 131.8,270.5 136.2,266.3 131.8,265.5" fill="#B2632B"/><polygon points="138.5,271.7 143.0,272.4 147.5,268.2 143.0,267.4" fill="#B2632B"/><polygon points="154.37,274.41 158.75,270.13 157.75,249.94 153.35,254.13" fill="#A45B27" stroke="#A45B27"/><polygon points="149.84,273.62 154.37,274.41 153.35,254.13 148.79,253.36" fill="#DD7B31" stroke="#DD7B31"/><polygon points="148.79,253.36 153.35,254.13 157.75,249.94 153.21,249.17" fill="#CC712D" stroke="#CC712D"/><polygon points="161.2,275.6 165.8,276.4 170.1,272.1 165.5,271.3" fill="#B2632B"/><polygon points="172.6,277.6 177.2,278.4 181.5,274.0 176.9,273.3" fill="#B2632B"/><polygon points="184.1,279.5 188.7,280.3 192.9,276.0 188.3,275.2" fill="#B2632B"/><polygon points="200.22,282.34 204.40,277.99 203.84,262.75 199.64,267.04" fill="#A45B27" stroke="#A45B27"/><polygon points="195.60,281.54 200.22,282.34 199.64,267.04 195.00,266.25" fill="#DD7B31" stroke="#DD7B31"/><polygon points="195.00,266.25 199.64,267.04 203.84,262.75 199.22,261.97" fill="#CC712D" stroke="#CC712D"/><polygon points="207.2,283.5 211.8,284.4 216.0,280.0 211.3,279.2" fill="#B2632B"/><polygon points="218.8,285.6 223.5,286.4 227.6,282.0 222.9,281.2" fill="#B2632B"/><polygon points="230.5,287.6 235.2,288.4 239.2,284.0 234.6,283.2" fill="#B2632B"/><polygon points="246.97,290.44 250.95,286.00 249.09,207.88 245.01,212.00" fill="#A45B27" stroke="#A45B27"/><polygon points="242.25,289.62 246.97,290.44 245.01,212.00 240.19,211.24" fill="#DD7B31" stroke="#DD7B31"/><polygon points="240.19,211.24 245.01,212.00 249.09,207.88 244.29,207.13" fill="#CC712D" stroke="#CC712D"/><polygon points="258.80,292.49 262.72,288.03 261.34,220.39 257.33,224.57" fill="#A45B27" stroke="#A45B27"/><polygon points="254.06,291.66 258.80,292.49 257.33,224.57 252.50,223.80" fill="#DD7B31" stroke="#DD7B31"/><polygon points="252.50,223.80 257.33,224.57 261.34,220.39 256.53,219.63" fill="#CC712D" stroke="#CC712D"/><polygon points="270.69,294.54 274.56,290.06 272.56,173.85 268.55,177.85" fill="#A45B27" stroke="#A45B27"/><polygon points="265.92,293.72 270.69,294.54 268.55,177.85 263.63,177.12" fill="#DD7B31" stroke="#DD7B31"/><polygon points="263.63,177.12 268.55,177.85 272.56,173.85 267.67,173.13" fill="#CC712D" stroke="#CC712D"/><polygon points="282.63,296.61 286.45,292.11 286.02,261.09 282.17,265.47" fill="#A45B27" stroke="#A45B27"/><polygon points="277.85,295.78 282.63,296.61 282.17,265.47 277.34,264.66" fill="#DD7B31" stroke="#DD7B31"/><polygon points="277.34,264.66 282.17,265.47 286.02,261.09 281.22,260.29" fill="#CC712D" stroke="#CC712D"/><polygon points="294.64,298.69 298.41,294.17 298.30,283.87 294.52,288.35" fill="#A45B27" stroke="#A45B27"/><polygon points="289.83,297.86 294.64,298.69 294.52,288.35 289.70,287.52" fill="#DD7B31" stroke="#DD7B31"/><polygon points="289.70,287.52 294.52,288.35 298.30,283.87 293.50,283.05" fill="#CC712D" stroke="#CC712D"/><polygon points="306.71,300.78 310.42,296.23 310.38,291.08 306.66,295.61" fill="#A45B27" stroke="#A45B27"/><polygon points="301.87,299.94 306.71,300.78 306.66,295.61 301.82,294.77" fill="#DD7B31" stroke="#DD7B31"/><polygon points="301.82,294.77 306.66,295.61 310.38,291.08 305.56,290.26" fill="#CC712D" stroke="#CC712D"/><polygon points="314.0,302.0 318.8,302.9 322.5,298.3 317.7,297.5" fill="#B2632B"/><polygon points="326.1,304.1 331.0,305.0 334.6,300.4 329.8,299.6" fill="#B2632B"/><polygon points="338.4,306.3 343.3,307.1 346.8,302.5 341.9,301.7" fill="#B2632B"/><polygon points="355.58,309.24 359.06,304.60 359.17,288.98 355.66,293.56" fill="#A45B27" stroke="#A45B27"/><polygon points="350.64,308.39 355.58,309.24 355.66,293.56 350.71,292.72" fill="#DD7B31" stroke="#DD7B31"/><polygon points="350.71,292.72 355.66,293.56 359.17,288.98 354.24,288.15" fill="#CC712D" stroke="#CC712D"/><polygon points="367.95,311.38 371.38,306.72 371.48,296.30 368.04,300.92" fill="#A45B27" stroke="#A45B27"/><polygon points="362.99,310.52 367.95,311.38 368.04,300.92 363.07,300.07" fill="#DD7B31" stroke="#DD7B31"/><polygon points="363.07,300.07 368.04,300.92 371.48,296.30 366.53,295.46" fill="#CC712D" stroke="#CC712D"/><polygon points="380.38,313.54 383.75,308.85 384.11,282.64 380.71,287.22" fill="#A45B27" stroke="#A45B27"/><polygon points="375.40,312.67 380.38,313.54 380.71,287.22 375.69,286.38" fill="#DD7B31" stroke="#DD7B31"/><polygon points="375.69,286.38 380.71,287.22 384.11,282.64 379.11,281.81" fill="#CC712D" stroke="#CC712D"/><polygon points="392.88,315.70 396.19,310.99 396.73,279.43 393.38,284.01" fill="#A45B27" stroke="#A45B27"/><polygon points="387.87,314.83 392.88,315.70 393.38,284.01 388.33,283.17" fill="#DD7B31" stroke="#DD7B31"/><polygon points="388.33,283.17 393.38,284.01 396.73,279.43 391.70,278.60" fill="#CC712D" stroke="#CC712D"/><polygon points="400.4,317.0 405.4,317.9 408.7,313.1 403.7,312.3" fill="#B2632B"/><polygon points="413.0,319.2 418.1,320.1 421.3,315.3 416.2,314.4" fill="#B2632B"/><polygon points="425.7,321.4 430.7,322.3 433.9,317.5 428.8,316.6" fill="#B2632B"/><polygon points="443.50,324.46 446.57,319.66 448.41,260.91 445.29,265.47" fill="#A45B27" stroke="#A45B27"/><polygon points="438.39,323.58 443.50,324.46 445.29,265.47 440.09,264.63" fill="#DD7B31" stroke="#DD7B31"/><polygon points="440.09,264.63 445.29,265.47 448.41,260.91 443.24,260.08" fill="#CC712D" stroke="#CC712D"/><polygon points="456.32,326.68 459.33,321.86 460.44,289.99 457.40,294.68" fill="#A45B27" stroke="#A45B27"/><polygon points="451.18,325.79 456.32,326.68 457.40,294.68 452.22,293.82" fill="#DD7B31" stroke="#DD7B31"/><polygon points="452.22,293.82 457.40,294.68 460.44,289.99 455.28,289.13" fill="#CC712D" stroke="#CC712D"/><polygon points="469.20,328.91 472.15,324.06 473.79,281.36 470.81,286.04" fill="#A45B27" stroke="#A45B27"/><polygon points="464.04,328.02 469.20,328.91 470.81,286.04 465.59,285.18" fill="#DD7B31" stroke="#DD7B31"/><polygon points="465.59,285.18 470.81,286.04 473.79,281.36 468.59,280.51" fill="#CC712D" stroke="#CC712D"/><polygon points="482.15,331.16 485.04,326.28 485.93,305.02 483.03,309.80" fill="#A45B27" stroke="#A45B27"/><polygon points="476.96,330.26 482.15,331.16 483.03,309.80 477.81,308.92" fill="#DD7B31" stroke="#DD7B31"/><polygon points="477.81,308.92 483.03,309.80 485.93,305.02 480.74,304.14" fill="#CC712D" stroke="#CC712D"/><polygon points="495.16,333.41 497.99,328.51 498.72,312.55 495.89,317.39" fill="#A45B27" stroke="#A45B27"/><polygon points="489.95,332.51 495.16,333.41 495.89,317.39 490.65,316.50" fill="#DD7B31" stroke="#DD7B31"/><polygon points="490.65,316.50 495.89,317.39 498.72,312.55 493.51,311.67" fill="#CC712D" stroke="#CC712D"/><polygon points="508.25,335.67 511.01,330.75 511.27,325.44 508.51,330.34" fill="#A45B27" stroke="#A45B27"/><polygon points="503.01,334.77 508.25,335.67 508.51,330.34 503.26,329.44" fill="#DD7B31" stroke="#DD7B31"/><polygon points="503.26,329.44 508.51,330.34 511.27,325.44 506.05,324.54" fill="#CC712D" stroke="#CC712D"/><polygon points="516.1,337.0 521.4,338.0 524.1,333.0 518.9,332.1" fill="#B2632B"/><polygon points="534.62,340.24 537.25,335.26 537.55,329.93 534.92,334.89" fill="#A45B27" stroke="#A45B27"/><polygon points="529.32,339.32 534.62,340.24 534.92,334.89 529.62,333.97" fill="#DD7B31" stroke="#DD7B31"/><polygon points="529.62,333.97 534.92,334.89 537.55,329.93 532.27,329.03" fill="#CC712D" stroke="#CC712D"/><polygon points="542.6,341.6 547.9,342.5 550.5,337.5 545.2,336.6" fill="#B2632B"/><polygon points="555.9,343.9 561.3,344.9 563.8,339.8 558.4,338.9" fill="#B2632B"/><polygon points="569.3,346.2 574.7,347.2 577.1,342.1 571.8,341.2" fill="#B2632B"/><polygon points="582.8,348.6 588.2,349.5 590.5,344.4 585.2,343.5" fill="#B2632B"/><polygon points="596.3,350.9 601.8,351.9 604.0,346.8 598.6,345.8" fill="#B2632B"/><polygon points="93.3,276.5 97.8,277.3 102.5,273.0 98.0,272.2" fill="#247383"/><polygon points="109.07,279.27 113.70,274.95 112.44,254.66 107.78,258.90" fill="#237281" stroke="#237281"/><polygon points="104.55,278.47 109.07,279.27 107.78,258.90 103.24,258.12" fill="#3399B3" stroke="#3399B3"/><polygon points="103.24,258.12 107.78,258.90 112.44,254.66 107.92,253.89" fill="#2B879C" stroke="#2B879C"/><polygon points="120.40,281.26 124.99,276.92 124.09,261.70 119.48,265.98" fill="#237281" stroke="#237281"/><polygon points="115.86,280.46 120.40,281.26 119.48,265.98 114.92,265.19" fill="#3399B3" stroke="#3399B3"/><polygon points="114.92,265.19 119.48,265.98 124.09,261.70 119.55,260.92" fill="#2B879C" stroke="#2B879C"/><polygon points="127.2,282.5 131.8,283.3 136.3,278.9 131.8,278.1" fill="#247383"/><polygon points="138.7,284.5 143.2,285.3 147.7,280.9 143.2,280.1" fill="#247383"/><polygon points="150.1,286.5 154.7,287.3 159.2,282.9 154.6,282.1" fill="#247383"/><polygon points="166.29,289.33 170.68,284.91 169.97,269.57 165.56,273.94" fill="#237281" stroke="#237281"/><polygon points="161.66,288.52 166.29,289.33 165.56,273.94 160.91,273.13" fill="#3399B3" stroke="#3399B3"/><polygon points="160.91,273.13 165.56,273.94 169.97,269.57 165.35,268.78" fill="#2B879C" stroke="#2B879C"/><polygon points="173.3,290.6 177.9,291.4 182.2,286.9 177.6,286.1" fill="#247383"/><polygon points="184.9,292.6 189.6,293.4 193.9,289.0 189.2,288.1" fill="#247383"/><polygon points="196.6,294.7 201.3,295.5 205.5,291.0 200.9,290.2" fill="#247383"/><polygon points="208.4,296.7 213.1,297.6 217.3,293.1 212.6,292.2" fill="#247383"/><polygon points="220.2,298.8 224.9,299.6 229.1,295.1 224.3,294.3" fill="#247383"/><polygon points="232.1,300.9 236.8,301.7 240.9,297.2 236.2,296.4" fill="#247383"/><polygon points="248.80,303.84 252.83,299.26 252.71,294.10 248.67,298.66" fill="#237281" stroke="#237281"/><polygon points="244.01,303.00 248.80,303.84 248.67,298.66 243.87,297.82" fill="#3399B3" stroke="#3399B3"/><polygon points="243.87,297.82 248.67,298.66 252.71,294.10 247.93,293.27" fill="#2B879C" stroke="#2B879C"/><polygon points="260.82,305.96 264.80,301.35 264.69,296.18 260.71,300.76" fill="#237281" stroke="#237281"/><polygon points="256.00,305.11 260.82,305.96 260.71,300.76 255.89,299.92" fill="#3399B3" stroke="#3399B3"/><polygon points="255.89,299.92 260.71,300.76 264.69,296.18 259.89,295.35" fill="#2B879C" stroke="#2B879C"/><polygon points="272.90,308.08 276.83,303.46 276.74,298.27 272.81,302.88" fill="#237281" stroke="#237281"/><polygon points="268.06,307.23 272.90,308.08 272.81,302.88 267.96,302.03" fill="#3399B3" stroke="#3399B3"/><polygon points="267.96,302.03 272.81,302.88 276.74,298.27 271.91,297.43" fill="#2B879C" stroke="#2B879C"/><polygon points="285.05,310.22 288.91,305.57 288.85,300.37 284.97,305.00" fill="#237281" stroke="#237281"/><polygon points="280.18,309.36 285.05,310.22 284.97,305.00 280.10,304.15" fill="#3399B3" stroke="#3399B3"/><polygon points="280.10,304.15 284.97,305.00 288.85,300.37 284.00,299.53" fill="#2B879C" stroke="#2B879C"/><polygon points="292.4,311.5 297.2,312.4 301.1,307.7 296.2,306.8" fill="#247383"/><polygon points="304.6,313.7 309.5,314.5 313.3,309.8 308.4,309.0" fill="#247383"/><polygon points="321.84,316.69 325.54,311.97 325.53,306.75 321.82,311.44" fill="#237281" stroke="#237281"/><polygon points="316.90,315.82 321.84,316.69 321.82,311.44 316.88,310.58" fill="#3399B3" stroke="#3399B3"/><polygon points="316.88,310.58 321.82,311.44 325.53,306.75 320.60,305.89" fill="#2B879C" stroke="#2B879C"/><polygon points="334.23,318.87 337.88,314.13 337.88,303.64 334.23,308.34" fill="#237281" stroke="#237281"/><polygon points="329.27,317.99 334.23,318.87 334.23,308.34 329.25,307.47" fill="#3399B3" stroke="#3399B3"/><polygon points="329.25,307.47 334.23,308.34 337.88,303.64 332.93,302.79" fill="#2B879C" stroke="#2B879C"/><polygon points="341.7,320.2 346.7,321.1 350.3,316.3 345.3,315.4" fill="#247383"/><polygon points="354.2,322.4 359.2,323.3 362.7,318.5 357.7,317.6" fill="#247383"/><polygon points="371.78,325.47 375.25,320.66 375.31,315.39 371.84,320.18" fill="#237281" stroke="#237281"/><polygon points="366.74,324.58 371.78,325.47 371.84,320.18 366.79,319.30" fill="#3399B3" stroke="#3399B3"/><polygon points="366.79,319.30 371.84,320.18 375.31,315.39 370.28,314.52" fill="#2B879C" stroke="#2B879C"/><polygon points="384.43,327.69 387.83,322.86 387.91,317.58 384.50,322.40" fill="#237281" stroke="#237281"/><polygon points="379.36,326.80 384.43,327.69 384.50,322.40 379.43,321.51" fill="#3399B3" stroke="#3399B3"/><polygon points="379.43,321.51 384.50,322.40 387.91,317.58 382.86,316.70" fill="#2B879C" stroke="#2B879C"/><polygon points="397.14,329.93 400.48,325.07 400.58,319.78 397.23,324.62" fill="#237281" stroke="#237281"/><polygon points="392.05,329.03 397.14,329.93 397.23,324.62 392.13,323.73" fill="#3399B3" stroke="#3399B3"/><polygon points="392.13,323.73 397.23,324.62 400.58,319.78 395.51,318.90" fill="#2B879C" stroke="#2B879C"/><polygon points="404.8,331.3 409.9,332.2 413.2,327.3 408.1,326.4" fill="#247383"/><polygon points="417.6,333.5 422.8,334.4 426.0,329.5 420.9,328.6" fill="#247383"/><polygon points="430.5,335.8 435.7,336.7 438.8,331.8 433.7,330.9" fill="#247383"/><polygon points="443.4,338.1 448.6,339.0 451.7,334.0 446.6,333.1" fill="#247383"/><polygon points="456.5,340.4 461.7,341.3 464.7,336.3 459.5,335.4" fill="#247383"/><polygon points="474.79,343.58 477.76,338.57 477.97,333.22 475.00,338.22" fill="#237281" stroke="#237281"/><polygon points="469.54,342.66 474.79,343.58 475.00,338.22 469.74,337.30" fill="#3399B3" stroke="#3399B3"/><polygon points="469.74,337.30 475.00,338.22 477.97,333.22 472.74,332.32" fill="#2B879C" stroke="#2B879C"/><polygon points="482.7,345.0 488.0,345.9 490.9,340.9 485.6,339.9" fill="#247383"/><polygon points="495.9,347.3 501.2,348.2 504.1,343.2 498.8,342.2" fill="#247383"/><polygon points="509.2,349.6 514.5,350.6 517.3,345.5 512.0,344.6" fill="#247383"/><polygon points="522.6,352.0 527.9,352.9 530.6,347.8 525.3,346.9" fill="#247383"/><polygon points="536.0,354.3 541.4,355.3 544.0,350.2 538.6,349.2" fill="#247383"/><polygon points="549.5,356.7 554.9,357.7 557.5,352.5 552.1,351.6" fill="#247383"/><polygon points="563.1,359.1 568.5,360.1 571.0,354.9 565.6,353.9" fill="#247383"/><polygon points="576.7,361.5 582.2,362.5 584.6,357.2 579.2,356.3" fill="#247383"/><polygon points="590.4,363.9 595.9,364.9 598.3,359.6 592.8,358.7" fill="#247383"/><polygon points="81.3,287.4 85.9,288.2 90.7,283.8 86.2,283.0" fill="#48346F"/><polygon points="92.7,289.5 97.3,290.3 102.0,285.8 97.5,285.0" fill="#48346F"/><polygon points="104.1,291.5 108.7,292.3 113.4,287.9 108.9,287.0" fill="#48346F"/><polygon points="115.6,293.5 120.2,294.4 124.9,289.9 120.3,289.1" fill="#48346F"/><polygon points="127.2,295.6 131.8,296.4 136.4,291.9 131.8,291.1" fill="#48346F"/><polygon points="138.8,297.7 143.4,298.5 148.0,294.0 143.4,293.2" fill="#48346F"/><polygon points="150.4,299.8 155.1,300.6 159.6,296.1 155.0,295.2" fill="#48346F"/><polygon points="162.1,301.9 166.8,302.7 171.3,298.1 166.6,297.3" fill="#48346F"/><polygon points="173.9,304.0 178.6,304.8 183.1,300.2 178.3,299.4" fill="#48346F"/><polygon points="185.8,306.1 190.5,306.9 194.9,302.3 190.1,301.5" fill="#48346F"/><polygon points="197.6,308.2 202.4,309.1 206.7,304.4 202.0,303.6" fill="#48346F"/><polygon points="209.6,310.3 214.4,311.2 218.6,306.5 213.9,305.7" fill="#48346F"/><polygon points="226.43,313.34 230.63,308.66 229.69,277.19 225.46,281.74" fill="#503770" stroke="#503770"/><polygon points="221.61,312.48 226.43,313.34 225.46,281.74 220.59,280.90" fill="#74529C" stroke="#74529C"/><polygon points="220.59,280.90 225.46,281.74 229.69,277.19 224.85,276.36" fill="#583C80" stroke="#583C80"/><polygon points="238.53,315.51 242.67,310.80 241.70,273.96 237.51,278.51" fill="#503770" stroke="#503770"/><polygon points="233.68,314.64 238.53,315.51 237.51,278.51 232.62,277.67" fill="#74529C" stroke="#74529C"/><polygon points="232.62,277.67 237.51,278.51 241.70,273.96 236.83,273.13" fill="#583C80" stroke="#583C80"/><polygon points="250.69,317.68 254.77,312.95 254.65,307.72 250.56,312.43" fill="#503770" stroke="#503770"/><polygon points="245.82,316.81 250.69,317.68 250.56,312.43 245.68,311.56" fill="#74529C" stroke="#74529C"/><polygon points="245.68,311.56 250.56,312.43 254.65,307.72 249.80,306.87" fill="#583C80" stroke="#583C80"/><polygon points="258.0,319.0 262.9,319.9 266.9,315.1 262.1,314.2" fill="#48346F"/><polygon points="270.3,321.2 275.2,322.1 279.2,317.3 274.3,316.4" fill="#48346F"/><polygon points="282.6,323.4 287.5,324.3 291.5,319.5 286.5,318.6" fill="#48346F"/><polygon points="295.0,325.6 299.9,326.5 303.8,321.7 298.9,320.8" fill="#48346F"/><polygon points="307.4,327.8 312.4,328.7 316.2,323.9 311.2,323.0" fill="#48346F"/><polygon points="319.9,330.0 325.0,330.9 328.7,326.1 323.7,325.2" fill="#48346F"/><polygon points="332.5,332.3 337.6,333.2 341.2,328.3 336.2,327.4" fill="#48346F"/><polygon points="350.22,335.46 353.84,330.54 354.31,238.07 350.59,242.60" fill="#503770" stroke="#503770"/><polygon points="345.14,334.55 350.22,335.46 350.59,242.60 345.38,241.77" fill="#74529C" stroke="#74529C"/><polygon points="345.38,241.77 350.59,242.60 354.31,238.07 349.13,237.25" fill="#583C80" stroke="#583C80"/><polygon points="362.95,337.73 366.51,332.79 367.75,189.09 364.05,193.41" fill="#503770" stroke="#503770"/><polygon points="357.85,336.82 362.95,337.73 364.05,193.41 358.74,192.61" fill="#74529C" stroke="#74529C"/><polygon points="358.74,192.61 364.05,193.41 367.75,189.09 362.47,188.30" fill="#583C80" stroke="#583C80"/><polygon points="375.75,340.02 379.25,335.05 380.32,247.81 376.74,252.41" fill="#503770" stroke="#503770"/><polygon points="370.62,339.10 375.75,340.02 376.74,252.41 371.48,251.56" fill="#74529C" stroke="#74529C"/><polygon points="371.48,251.56 376.74,252.41 380.32,247.81 375.09,246.97" fill="#583C80" stroke="#583C80"/><polygon points="388.61,342.32 392.05,337.32 393.62,238.67 390.09,243.24" fill="#503770" stroke="#503770"/><polygon points="383.46,341.40 388.61,342.32 390.09,243.24 384.79,242.40" fill="#74529C" stroke="#74529C"/><polygon points="384.79,242.40 390.09,243.24 393.62,238.67 388.34,237.84" fill="#583C80" stroke="#583C80"/><polygon points="401.54,344.63 404.92,339.61 406.63,252.01 403.18,256.66" fill="#503770" stroke="#503770"/><polygon points="396.36,343.70 401.54,344.63 403.18,256.66 397.87,255.81" fill="#74529C" stroke="#74529C"/><polygon points="397.87,255.81 403.18,256.66 406.63,252.01 401.35,251.17" fill="#583C80" stroke="#583C80"/><polygon points="414.54,346.95 417.85,341.90 419.25,282.03 415.88,286.82" fill="#503770" stroke="#503770"/><polygon points="409.33,346.02 414.54,346.95 415.88,286.82 410.59,285.94" fill="#74529C" stroke="#74529C"/><polygon points="410.59,285.94 415.88,286.82 419.25,282.03 413.97,281.15" fill="#583C80" stroke="#583C80"/><polygon points="427.61,349.29 430.86,344.21 432.62,278.66 429.32,283.46" fill="#503770" stroke="#503770"/><polygon points="422.37,348.35 427.61,349.29 429.32,283.46 423.99,282.57" fill="#74529C" stroke="#74529C"/><polygon points="423.99,282.57 429.32,283.46 432.62,278.66 427.32,277.79" fill="#583C80" stroke="#583C80"/><polygon points="440.74,351.63 443.93,346.53 445.77,286.42 442.54,291.26" fill="#503770" stroke="#503770"/><polygon points="435.48,350.69 440.74,351.63 442.54,291.26 437.19,290.37" fill="#74529C" stroke="#74529C"/><polygon points="437.19,290.37 442.54,291.26 445.77,286.42 440.44,285.53" fill="#583C80" stroke="#583C80"/><polygon points="453.95,353.99 457.07,348.86 458.76,299.73 455.61,304.65" fill="#503770" stroke="#503770"/><polygon points="448.66,353.05 453.95,353.99 455.61,304.65 450.24,303.75" fill="#74529C" stroke="#74529C"/><polygon points="450.24,303.75 455.61,304.65 458.76,299.73 453.42,298.84" fill="#583C80" stroke="#583C80"/><polygon points="467.22,356.36 470.27,351.21 471.95,307.52 468.86,312.49" fill="#503770" stroke="#503770"/><polygon points="461.90,355.41 467.22,356.36 468.86,312.49 463.48,311.57" fill="#74529C" stroke="#74529C"/><polygon points="463.48,311.57 468.86,312.49 471.95,307.52 466.59,306.61" fill="#583C80" stroke="#583C80"/><polygon points="480.57,358.75 483.55,353.57 483.78,348.15 480.79,353.31" fill="#503770" stroke="#503770"/><polygon points="475.22,357.79 480.57,358.75 480.79,353.31 475.44,352.36" fill="#74529C" stroke="#74529C"/><polygon points="475.44,352.36 480.79,353.31 483.78,348.15 478.45,347.21" fill="#583C80" stroke="#583C80"/><polygon points="488.6,360.2 494.0,361.1 496.9,355.9 491.6,355.0" fill="#48346F"/><polygon points="502.1,362.6 507.5,363.6 510.3,358.3 504.9,357.4" fill="#48346F"/><polygon points="515.6,365.0 521.0,366.0 523.8,360.7 518.4,359.8" fill="#48346F"/><polygon points="529.2,367.4 534.7,368.4 537.4,363.1 531.9,362.2" fill="#48346F"/><polygon points="542.9,369.9 548.4,370.9 551.0,365.5 545.5,364.6" fill="#48346F"/><polygon points="556.6,372.3 562.1,373.3 564.7,368.0 559.2,367.0" fill="#48346F"/><polygon points="570.5,374.8 576.0,375.8 578.5,370.4 573.0,369.4" fill="#48346F"/><polygon points="584.4,377.3 589.9,378.3 592.4,372.9 586.8,371.9" fill="#48346F"/><polygon points="73.65,299.47 78.58,294.94 78.21,289.80 73.27,294.31" fill="#5F8036" stroke="#5F8036"/><polygon points="69.06,298.63 73.65,299.47 73.27,294.31 68.67,293.48" fill="#8AAD49" stroke="#8AAD49"/><polygon points="68.67,293.48 73.27,294.31 78.21,289.80 73.63,288.98" fill="#9ABB62" stroke="#9ABB62"/><polygon points="85.17,301.56 90.05,297.01 89.34,286.69 84.44,291.20" fill="#5F8036" stroke="#5F8036"/><polygon points="80.55,300.72 85.17,301.56 84.44,291.20 79.81,290.37" fill="#8AAD49" stroke="#8AAD49"/><polygon points="79.81,290.37 84.44,291.20 89.34,286.69 84.73,285.87" fill="#9ABB62" stroke="#9ABB62"/><polygon points="96.74,303.66 101.58,299.09 100.90,288.75 96.05,293.28" fill="#5F8036" stroke="#5F8036"/><polygon points="92.11,302.82 96.74,303.66 96.05,293.28 91.40,292.45" fill="#8AAD49" stroke="#8AAD49"/><polygon points="91.40,292.45 96.05,293.28 100.90,288.75 96.27,287.92" fill="#9ABB62" stroke="#9ABB62"/><polygon points="108.38,305.77 113.16,301.18 111.53,275.17 106.71,279.66" fill="#5F8036" stroke="#5F8036"/><polygon points="103.72,304.93 108.38,305.77 106.71,279.66 102.01,278.83" fill="#8AAD49" stroke="#8AAD49"/><polygon points="102.01,278.83 106.71,279.66 111.53,275.17 106.86,274.35" fill="#9ABB62" stroke="#9ABB62"/><polygon points="120.07,307.89 124.80,303.28 122.63,266.69 117.84,271.16" fill="#5F8036" stroke="#5F8036"/><polygon points="115.39,307.04 120.07,307.89 117.84,271.16 113.11,270.34" fill="#8AAD49" stroke="#8AAD49"/><polygon points="113.11,270.34 117.84,271.16 122.63,266.69 117.92,265.88" fill="#9ABB62" stroke="#9ABB62"/><polygon points="131.82,310.03 136.50,305.39 134.15,263.43 129.40,267.90" fill="#5F8036" stroke="#5F8036"/><polygon points="127.11,309.17 131.82,310.03 129.40,267.90 124.64,267.08" fill="#8AAD49" stroke="#8AAD49"/><polygon points="124.64,267.08 129.40,267.90 134.15,263.43 129.41,262.62" fill="#9ABB62" stroke="#9ABB62"/><polygon points="143.63,312.17 148.26,307.51 145.47,254.81 140.76,259.26" fill="#5F8036" stroke="#5F8036"/><polygon points="138.90,311.31 143.63,312.17 140.76,259.26 135.96,258.44" fill="#8AAD49" stroke="#8AAD49"/><polygon points="135.96,258.44 140.76,259.26 145.47,254.81 140.70,254.00" fill="#9ABB62" stroke="#9ABB62"/><polygon points="155.50,314.33 160.07,309.64 157.72,262.19 153.07,266.68" fill="#5F8036" stroke="#5F8036"/><polygon points="150.74,313.46 155.50,314.33 153.07,266.68 148.26,265.85" fill="#8AAD49" stroke="#8AAD49"/><polygon points="148.26,265.85 153.07,266.68 157.72,262.19 152.93,261.37" fill="#9ABB62" stroke="#9ABB62"/><polygon points="167.42,316.49 171.95,311.78 170.49,280.23 165.92,284.81" fill="#5F8036" stroke="#5F8036"/><polygon points="162.65,315.62 167.42,316.49 165.92,284.81 161.10,283.97" fill="#8AAD49" stroke="#8AAD49"/><polygon points="161.10,283.97 165.92,284.81 170.49,280.23 165.69,279.39" fill="#9ABB62" stroke="#9ABB62"/><polygon points="179.41,318.67 183.89,313.93 181.61,260.93 177.06,265.44" fill="#5F8036" stroke="#5F8036"/><polygon points="174.61,317.80 179.41,318.67 177.06,265.44 172.19,264.61" fill="#8AAD49" stroke="#8AAD49"/><polygon points="172.19,264.61 177.06,265.44 181.61,260.93 176.76,260.11" fill="#9ABB62" stroke="#9ABB62"/><polygon points="186.6,320.0 191.5,320.9 195.9,316.1 191.1,315.2" fill="#5A8032"/><polygon points="198.7,322.2 203.6,323.1 207.9,318.3 203.1,317.4" fill="#5A8032"/><polygon points="210.9,324.4 215.7,325.3 220.1,320.5 215.2,319.6" fill="#5A8032"/><polygon points="223.1,326.6 228.0,327.5 232.2,322.7 227.4,321.8" fill="#5A8032"/><polygon points="235.4,328.8 240.3,329.7 244.5,324.9 239.6,324.0" fill="#5A8032"/><polygon points="247.7,331.1 252.6,332.0 256.8,327.1 251.9,326.2" fill="#5A8032"/><polygon points="260.1,333.3 265.1,334.2 269.1,329.3 264.2,328.4" fill="#5A8032"/><polygon points="272.6,335.6 277.6,336.5 281.6,331.6 276.6,330.7" fill="#5A8032"/><polygon points="285.1,337.9 290.1,338.8 294.1,333.8 289.1,332.9" fill="#5A8032"/><polygon points="297.7,340.1 302.7,341.1 306.6,336.1 301.6,335.2" fill="#5A8032"/><polygon points="310.3,342.4 315.4,343.4 319.3,338.4 314.2,337.4" fill="#5A8032"/><polygon points="323.1,344.7 328.2,345.7 332.0,340.6 326.9,339.7" fill="#5A8032"/><polygon points="335.8,347.1 341.0,348.0 344.7,342.9 339.6,342.0" fill="#5A8032"/><polygon points="348.7,349.4 353.9,350.3 357.5,345.3 352.4,344.3" fill="#5A8032"/><polygon points="361.6,351.8 366.8,352.7 370.4,347.6 365.3,346.7" fill="#5A8032"/><polygon points="379.84,355.06 383.38,349.92 383.75,322.78 380.18,327.80" fill="#5F8036" stroke="#5F8036"/><polygon points="374.63,354.11 379.84,355.06 380.18,327.80 374.93,326.88" fill="#8AAD49" stroke="#8AAD49"/><polygon points="374.93,326.88 380.18,327.80 383.75,322.78 378.51,321.86" fill="#9ABB62" stroke="#9ABB62"/><polygon points="387.7,356.5 392.9,357.4 396.4,352.3 391.2,351.3" fill="#5A8032"/><polygon points="400.8,358.9 406.1,359.8 409.5,354.6 404.3,353.7" fill="#5A8032"/><polygon points="414.0,361.3 419.3,362.2 422.7,357.0 417.4,356.1" fill="#5A8032"/><polygon points="427.3,363.7 432.6,364.6 435.9,359.4 430.6,358.4" fill="#5A8032"/><polygon points="440.6,366.1 446.0,367.1 449.2,361.8 443.9,360.8" fill="#5A8032"/><polygon points="454.1,368.5 459.4,369.5 462.6,364.2 457.2,363.2" fill="#5A8032"/><polygon points="467.5,371.0 473.0,372.0 476.0,366.6 470.6,365.7" fill="#5A8032"/><polygon points="481.1,373.4 486.5,374.4 489.5,369.1 484.1,368.1" fill="#5A8032"/><polygon points="494.7,375.9 500.2,376.9 503.1,371.5 497.7,370.5" fill="#5A8032"/><polygon points="508.4,378.4 513.9,379.4 516.8,374.0 511.3,373.0" fill="#5A8032"/><polygon points="522.2,380.9 527.8,381.9 530.5,376.5 525.0,375.5" fill="#5A8032"/><polygon points="536.1,383.4 541.6,384.4 544.4,379.0 538.8,378.0" fill="#5A8032"/><polygon points="550.0,386.0 555.6,387.0 558.2,381.5 552.7,380.5" fill="#5A8032"/><polygon points="564.0,388.5 569.6,389.5 572.2,384.0 566.6,383.0" fill="#5A8032"/><polygon points="578.1,391.1 583.8,392.1 586.2,386.5 580.6,385.5" fill="#5A8032"/><polygon points="61.10,311.00 66.16,306.35 65.37,295.95 60.29,300.56" fill="#802A27" stroke="#802A27"/><polygon points="56.46,310.15 61.10,311.00 60.29,300.56 55.63,299.71" fill="#B23F3B" stroke="#B23F3B"/><polygon points="55.63,299.71 60.29,300.56 65.37,295.95 60.74,295.11" fill="#94302D" stroke="#94302D"/><polygon points="72.74,313.15 77.75,308.48 77.37,303.27 72.35,307.93" fill="#802A27" stroke="#802A27"/><polygon points="68.07,312.29 72.74,313.15 72.35,307.93 67.68,307.07" fill="#B23F3B" stroke="#B23F3B"/><polygon points="67.68,307.07 72.35,307.93 77.37,303.27 72.72,302.43" fill="#94302D" stroke="#94302D"/><polygon points="79.8,314.4 84.4,315.3 89.4,310.6 84.7,309.8" fill="#8A302D"/><polygon points="96.20,317.48 101.11,312.76 100.42,302.30 95.49,306.98" fill="#802A27" stroke="#802A27"/><polygon points="91.49,316.61 96.20,317.48 95.49,306.98 90.76,306.12" fill="#B23F3B" stroke="#B23F3B"/><polygon points="90.76,306.12 95.49,306.98 100.42,302.30 95.71,301.45" fill="#94302D" stroke="#94302D"/><polygon points="108.01,319.66 112.88,314.92 112.22,304.43 107.34,309.14" fill="#802A27" stroke="#802A27"/><polygon points="103.28,318.79 108.01,319.66 107.34,309.14 102.59,308.27" fill="#B23F3B" stroke="#B23F3B"/><polygon points="102.59,308.27 107.34,309.14 112.22,304.43 107.49,303.58" fill="#94302D" stroke="#94302D"/><polygon points="119.89,321.85 124.70,317.09 124.08,306.58 119.25,311.31" fill="#802A27" stroke="#802A27"/><polygon points="115.13,320.98 119.89,321.85 119.25,311.31 114.48,310.44" fill="#B23F3B" stroke="#B23F3B"/><polygon points="114.48,310.44 119.25,311.31 124.08,306.58 119.32,305.72" fill="#94302D" stroke="#94302D"/><polygon points="131.83,324.06 136.59,319.26 136.29,314.01 131.53,318.78" fill="#802A27" stroke="#802A27"/><polygon points="127.05,323.17 131.83,324.06 131.53,318.78 126.74,317.90" fill="#B23F3B" stroke="#B23F3B"/><polygon points="126.74,317.90 131.53,318.78 136.29,314.01 131.52,313.14" fill="#94302D" stroke="#94302D"/><polygon points="143.83,326.27 148.54,321.45 148.26,316.19 143.55,320.99" fill="#802A27" stroke="#802A27"/><polygon points="139.03,325.38 143.83,326.27 143.55,320.99 138.73,320.10" fill="#B23F3B" stroke="#B23F3B"/><polygon points="138.73,320.10 143.55,320.99 148.26,316.19 143.46,315.32" fill="#94302D" stroke="#94302D"/><polygon points="155.89,328.50 160.54,323.66 160.28,318.38 155.62,323.20" fill="#802A27" stroke="#802A27"/><polygon points="151.06,327.61 155.89,328.50 155.62,323.20 150.79,322.31" fill="#B23F3B" stroke="#B23F3B"/><polygon points="150.79,322.31 155.62,323.20 160.28,318.38 155.46,317.50" fill="#94302D" stroke="#94302D"/><polygon points="168.02,330.74 172.61,325.87 172.37,320.59 167.77,325.43" fill="#802A27" stroke="#802A27"/><polygon points="163.16,329.84 168.02,330.74 167.77,325.43 162.90,324.54" fill="#B23F3B" stroke="#B23F3B"/><polygon points="162.90,324.54 167.77,325.43 172.37,320.59 167.53,319.70" fill="#94302D" stroke="#94302D"/><polygon points="180.20,332.98 184.74,328.09 184.52,322.80 179.97,327.67" fill="#802A27" stroke="#802A27"/><polygon points="175.32,332.08 180.20,332.98 179.97,327.67 175.08,326.77" fill="#B23F3B" stroke="#B23F3B"/><polygon points="175.08,326.77 179.97,327.67 184.52,322.80 179.65,321.91" fill="#94302D" stroke="#94302D"/><polygon points="187.5,334.3 192.5,335.2 196.9,330.3 192.1,329.4" fill="#8A302D"/><polygon points="199.8,336.6 204.8,337.5 209.2,332.6 204.3,331.7" fill="#8A302D"/><polygon points="212.2,338.9 217.1,339.8 221.5,334.8 216.6,333.9" fill="#8A302D"/><polygon points="224.6,341.2 229.6,342.1 233.9,337.1 228.9,336.2" fill="#8A302D"/><polygon points="242.09,344.40 246.34,339.39 246.21,334.04 241.94,339.04" fill="#802A27" stroke="#802A27"/><polygon points="237.08,343.48 242.09,344.40 241.94,339.04 236.93,338.12" fill="#B23F3B" stroke="#B23F3B"/><polygon points="236.93,338.12 241.94,339.04 246.21,334.04 241.21,333.13" fill="#94302D" stroke="#94302D"/><polygon points="249.6,345.8 254.7,346.7 258.9,341.7 253.8,340.8" fill="#8A302D"/><polygon points="267.29,349.06 271.43,343.99 271.33,338.62 267.19,343.67" fill="#802A27" stroke="#802A27"/><polygon points="262.23,348.12 267.29,349.06 267.19,343.67 262.12,342.74" fill="#B23F3B" stroke="#B23F3B"/><polygon points="262.12,342.74 267.19,343.67 271.33,338.62 266.29,337.70" fill="#94302D" stroke="#94302D"/><polygon points="274.9,350.5 280.0,351.4 284.1,346.3 279.0,345.4" fill="#8A302D"/><polygon points="287.7,352.8 292.8,353.8 296.8,348.6 291.7,347.7" fill="#8A302D"/><polygon points="305.61,356.13 309.56,350.98 309.52,345.58 305.56,350.70" fill="#802A27" stroke="#802A27"/><polygon points="300.46,355.18 305.61,356.13 305.56,350.70 300.41,349.76" fill="#B23F3B" stroke="#B23F3B"/><polygon points="300.41,349.76 305.56,350.70 309.52,345.58 304.39,344.64" fill="#94302D" stroke="#94302D"/><polygon points="318.51,358.51 322.40,353.33 322.38,347.92 318.48,353.08" fill="#802A27" stroke="#802A27"/><polygon points="313.34,357.55 318.51,358.51 318.48,353.08 313.31,352.13" fill="#B23F3B" stroke="#B23F3B"/><polygon points="313.31,352.13 318.48,353.08 322.38,347.92 317.23,346.98" fill="#94302D" stroke="#94302D"/><polygon points="331.48,360.90 335.32,355.70 335.31,350.28 331.48,355.46" fill="#802A27" stroke="#802A27"/><polygon points="326.29,359.94 331.48,360.90 331.48,355.46 326.27,354.50" fill="#B23F3B" stroke="#B23F3B"/><polygon points="326.27,354.50 331.48,355.46 335.31,350.28 330.13,349.33" fill="#94302D" stroke="#94302D"/><polygon points="344.53,363.31 348.30,358.08 348.31,352.65 344.54,357.86" fill="#802A27" stroke="#802A27"/><polygon points="339.30,362.34 344.53,363.31 344.54,357.86 339.31,356.90" fill="#B23F3B" stroke="#B23F3B"/><polygon points="339.31,356.90 344.54,357.86 348.31,352.65 343.11,351.70" fill="#94302D" stroke="#94302D"/><polygon points="357.64,365.73 361.34,360.47 361.38,355.03 357.67,360.26" fill="#802A27" stroke="#802A27"/><polygon points="352.39,364.76 357.64,365.73 357.67,360.26 352.41,359.30" fill="#B23F3B" stroke="#B23F3B"/><polygon points="352.41,359.30 357.67,360.26 361.38,355.03 356.15,354.07" fill="#94302D" stroke="#94302D"/><polygon points="370.82,368.16 374.46,362.87 374.52,357.42 370.88,362.69" fill="#802A27" stroke="#802A27"/><polygon points="365.54,367.19 370.82,368.16 370.88,362.69 365.59,361.72" fill="#B23F3B" stroke="#B23F3B"/><polygon points="365.59,361.72 370.88,362.69 374.52,357.42 369.26,356.46" fill="#94302D" stroke="#94302D"/><polygon points="384.08,370.61 387.65,365.29 387.73,359.83 384.15,365.12" fill="#802A27" stroke="#802A27"/><polygon points="378.77,369.63 384.08,370.61 384.15,365.12 378.83,364.15" fill="#B23F3B" stroke="#B23F3B"/><polygon points="378.83,364.15 384.15,365.12 387.73,359.83 382.44,358.87" fill="#94302D" stroke="#94302D"/><polygon points="397.40,373.07 400.91,367.72 401.01,362.25 397.50,367.57" fill="#802A27" stroke="#802A27"/><polygon points="392.06,372.08 397.40,373.07 397.50,367.57 392.15,366.59" fill="#B23F3B" stroke="#B23F3B"/><polygon points="392.15,366.59 397.50,367.57 401.01,362.25 395.69,361.28" fill="#94302D" stroke="#94302D"/><polygon points="410.80,375.54 414.24,370.17 414.36,364.68 410.92,370.03" fill="#802A27" stroke="#802A27"/><polygon points="405.43,374.55 410.80,375.54 410.92,370.03 405.54,369.04" fill="#B23F3B" stroke="#B23F3B"/><polygon points="405.54,369.04 410.92,370.03 414.36,364.68 409.01,363.71" fill="#94302D" stroke="#94302D"/><polygon points="424.27,378.02 427.64,372.62 427.78,367.13 424.41,372.51" fill="#802A27" stroke="#802A27"/><polygon points="418.87,377.03 424.27,378.02 424.41,372.51 419.00,371.51" fill="#B23F3B" stroke="#B23F3B"/><polygon points="419.00,371.51 424.41,372.51 427.78,367.13 422.41,366.15" fill="#94302D" stroke="#94302D"/><polygon points="437.81,380.52 441.11,375.09 441.28,369.59 437.97,374.99" fill="#802A27" stroke="#802A27"/><polygon points="432.39,379.52 437.81,380.52 437.97,374.99 432.54,374.00" fill="#B23F3B" stroke="#B23F3B"/><polygon points="432.54,374.00 437.97,374.99 441.28,369.59 435.87,368.60" fill="#94302D" stroke="#94302D"/><polygon points="451.43,383.04 454.66,377.58 454.85,372.06 451.61,377.50" fill="#802A27" stroke="#802A27"/><polygon points="445.97,382.03 451.43,383.04 451.61,377.50 446.15,376.49" fill="#B23F3B" stroke="#B23F3B"/><polygon points="446.15,376.49 451.61,377.50 454.85,372.06 449.41,371.07" fill="#94302D" stroke="#94302D"/><polygon points="465.12,385.56 468.28,380.08 468.91,363.44 465.74,368.85" fill="#802A27" stroke="#802A27"/><polygon points="459.64,384.55 465.12,385.56 465.74,368.85 460.23,367.86" fill="#B23F3B" stroke="#B23F3B"/><polygon points="460.23,367.86 465.74,368.85 468.91,363.44 463.43,362.45" fill="#94302D" stroke="#94302D"/><polygon points="478.89,388.10 481.98,382.59 482.21,377.05 479.12,382.54" fill="#802A27" stroke="#802A27"/><polygon points="473.37,387.08 478.89,388.10 479.12,382.54 473.59,381.53" fill="#B23F3B" stroke="#B23F3B"/><polygon points="473.59,381.53 479.12,382.54 482.21,377.05 476.71,376.05" fill="#94302D" stroke="#94302D"/><polygon points="492.73,390.66 495.74,385.11 496.00,379.56 492.98,385.08" fill="#802A27" stroke="#802A27"/><polygon points="487.18,389.63 492.73,390.66 492.98,385.08 487.42,384.06" fill="#B23F3B" stroke="#B23F3B"/><polygon points="487.42,384.06 492.98,385.08 496.00,379.56 490.47,378.55" fill="#94302D" stroke="#94302D"/><polygon points="506.64,393.23 509.59,387.65 509.87,382.09 506.92,387.64" fill="#802A27" stroke="#802A27"/><polygon points="501.07,392.20 506.64,393.23 506.92,387.64 501.33,386.62" fill="#B23F3B" stroke="#B23F3B"/><polygon points="501.33,386.62 506.92,387.64 509.87,382.09 504.31,381.07" fill="#94302D" stroke="#94302D"/><polygon points="520.64,395.81 523.51,390.20 524.42,373.43 521.54,378.96" fill="#802A27" stroke="#802A27"/><polygon points="515.03,394.77 520.64,395.81 521.54,378.96 515.90,377.94" fill="#B23F3B" stroke="#B23F3B"/><polygon points="515.90,377.94 521.54,378.96 524.42,373.43 518.81,372.42" fill="#94302D" stroke="#94302D"/><polygon points="534.71,398.40 537.51,392.77 538.16,381.58 535.36,387.17" fill="#802A27" stroke="#802A27"/><polygon points="529.07,397.36 534.71,398.40 535.36,387.17 529.70,386.14" fill="#B23F3B" stroke="#B23F3B"/><polygon points="529.70,386.14 535.36,387.17 538.16,381.58 532.53,380.56" fill="#94302D" stroke="#94302D"/><polygon points="548.86,401.02 551.58,395.35 551.93,389.75 549.21,395.40" fill="#802A27" stroke="#802A27"/><polygon points="543.19,399.97 548.86,401.02 549.21,395.40 543.53,394.35" fill="#B23F3B" stroke="#B23F3B"/><polygon points="543.53,394.35 549.21,395.40 551.93,389.75 546.28,388.72" fill="#94302D" stroke="#94302D"/><polygon points="563.09,403.64 565.73,397.94 566.10,392.33 563.46,398.01" fill="#802A27" stroke="#802A27"/><polygon points="557.39,402.59 563.09,403.64 563.46,398.01 557.75,396.96" fill="#B23F3B" stroke="#B23F3B"/><polygon points="557.75,396.96 563.46,398.01 566.10,392.33 560.42,391.30" fill="#94302D" stroke="#94302D"/><polygon points="577.40,406.28 579.96,400.55 580.76,389.30 578.19,394.98" fill="#802A27" stroke="#802A27"/><polygon points="571.66,405.22 577.40,406.28 578.19,394.98 572.43,393.93" fill="#B23F3B" stroke="#B23F3B"/><polygon points="572.43,393.93 578.19,394.98 580.76,389.30 575.04,388.26" fill="#94302D" stroke="#94302D"/><polygon points="43.5,322.0 48.2,322.9 53.4,318.1 48.7,317.2" fill="#24497C"/><polygon points="55.3,324.2 60.0,325.1 65.1,320.3 60.4,319.4" fill="#24497C"/><polygon points="67.1,326.4 71.8,327.3 76.9,322.5 72.2,321.6" fill="#24497C"/><polygon points="78.9,328.6 83.7,329.5 88.7,324.7 84.0,323.8" fill="#24497C"/><polygon points="90.8,330.9 95.6,331.8 100.6,326.9 95.9,326.0" fill="#24497C"/><polygon points="102.8,333.1 107.6,334.0 112.6,329.1 107.8,328.2" fill="#24497C"/><polygon points="114.9,335.4 119.7,336.3 124.6,331.3 119.8,330.4" fill="#24497C"/><polygon points="127.0,337.6 131.8,338.5 136.7,333.6 131.8,332.7" fill="#24497C"/><polygon points="139.2,339.9 144.0,340.8 148.8,335.9 144.0,335.0" fill="#24497C"/><polygon points="151.4,342.2 156.3,343.1 161.0,338.1 156.1,337.2" fill="#24497C"/><polygon points="163.7,344.5 168.6,345.4 173.3,340.4 168.4,339.5" fill="#24497C"/><polygon points="176.1,346.8 181.0,347.8 185.6,342.7 180.7,341.8" fill="#24497C"/><polygon points="193.48,350.11 198.03,345.03 194.80,262.72 190.12,267.45" fill="#264C82" stroke="#264C82"/><polygon points="188.49,349.17 193.48,350.11 190.12,267.45 185.02,266.58" fill="#3F6EB0" stroke="#3F6EB0"/><polygon points="185.02,266.58 190.12,267.45 194.80,262.72 189.72,261.87" fill="#2F5B91" stroke="#2F5B91"/><polygon points="206.00,352.46 210.49,347.35 207.75,270.50 203.14,275.28" fill="#264C82" stroke="#264C82"/><polygon points="200.98,351.52 206.00,352.46 203.14,275.28 198.01,274.40" fill="#3F6EB0" stroke="#3F6EB0"/><polygon points="198.01,274.40 203.14,275.28 207.75,270.50 202.65,269.63" fill="#2F5B91" stroke="#2F5B91"/><polygon points="218.58,354.82 223.02,349.69 220.00,255.74 215.42,260.46" fill="#264C82" stroke="#264C82"/><polygon points="213.54,353.87 218.58,354.82 215.42,260.46 210.25,259.60" fill="#3F6EB0" stroke="#3F6EB0"/><polygon points="210.25,259.60 215.42,260.46 220.00,255.74 214.85,254.88" fill="#2F5B91" stroke="#2F5B91"/><polygon points="231.23,357.20 235.61,352.04 234.99,330.33 230.58,335.40" fill="#264C82" stroke="#264C82"/><polygon points="226.17,356.24 231.23,357.20 230.58,335.40 225.48,334.46" fill="#3F6EB0" stroke="#3F6EB0"/><polygon points="225.48,334.46 230.58,335.40 234.99,330.33 229.92,329.41" fill="#2F5B91" stroke="#2F5B91"/><polygon points="243.95,359.58 248.27,354.39 248.00,343.55 243.67,348.70" fill="#264C82" stroke="#264C82"/><polygon points="238.86,358.63 243.95,359.58 243.67,348.70 238.56,347.75" fill="#3F6EB0" stroke="#3F6EB0"/><polygon points="238.56,347.75 243.67,348.70 248.00,343.55 242.91,342.62" fill="#2F5B91" stroke="#2F5B91"/><polygon points="256.74,361.98 261.00,356.77 260.41,329.48 256.12,334.58" fill="#264C82" stroke="#264C82"/><polygon points="251.62,361.02 256.74,361.98 256.12,334.58 250.96,333.64" fill="#3F6EB0" stroke="#3F6EB0"/><polygon points="250.96,333.64 256.12,334.58 260.41,329.48 255.28,328.56" fill="#2F5B91" stroke="#2F5B91"/><polygon points="269.60,364.39 273.79,359.15 273.50,342.80 269.29,347.97" fill="#264C82" stroke="#264C82"/><polygon points="264.45,363.43 269.60,364.39 269.29,347.97 264.11,347.02" fill="#3F6EB0" stroke="#3F6EB0"/><polygon points="264.11,347.02 269.29,347.97 273.50,342.80 268.35,341.86" fill="#2F5B91" stroke="#2F5B91"/><polygon points="282.52,366.82 286.66,361.55 286.19,328.63 282.02,333.76" fill="#264C82" stroke="#264C82"/><polygon points="277.34,365.85 282.52,366.82 282.02,333.76 276.79,332.81" fill="#3F6EB0" stroke="#3F6EB0"/><polygon points="276.79,332.81 282.02,333.76 286.19,328.63 280.99,327.69" fill="#2F5B91" stroke="#2F5B91"/><polygon points="295.52,369.26 299.59,363.96 299.36,342.04 295.26,347.24" fill="#264C82" stroke="#264C82"/><polygon points="290.31,368.28 295.52,369.26 295.26,347.24 290.02,346.28" fill="#3F6EB0" stroke="#3F6EB0"/><polygon points="290.02,346.28 295.26,347.24 299.36,342.04 294.15,341.09" fill="#2F5B91" stroke="#2F5B91"/><polygon points="308.58,371.71 312.59,366.38 312.51,355.43 308.49,360.71" fill="#264C82" stroke="#264C82"/><polygon points="303.35,370.72 308.58,371.71 308.49,360.71 303.24,359.74" fill="#3F6EB0" stroke="#3F6EB0"/><polygon points="303.24,359.74 308.49,360.71 312.51,355.43 307.29,354.47" fill="#2F5B91" stroke="#2F5B91"/><polygon points="321.71,374.17 325.66,368.82 325.49,313.27 321.49,318.38" fill="#264C82" stroke="#264C82"/><polygon points="316.45,373.18 321.71,374.17 321.49,318.38 316.14,317.44" fill="#3F6EB0" stroke="#3F6EB0"/><polygon points="316.14,317.44 321.49,318.38 325.49,313.27 320.17,312.34" fill="#2F5B91" stroke="#2F5B91"/><polygon points="334.92,376.65 338.80,371.27 338.83,332.49 334.91,337.70" fill="#264C82" stroke="#264C82"/><polygon points="329.63,375.66 334.92,376.65 334.91,337.70 329.56,336.74" fill="#3F6EB0" stroke="#3F6EB0"/><polygon points="329.56,336.74 334.91,337.70 338.83,332.49 333.50,331.54" fill="#2F5B91" stroke="#2F5B91"/><polygon points="348.20,379.14 352.01,373.73 352.18,334.87 348.33,340.12" fill="#264C82" stroke="#264C82"/><polygon points="342.88,378.14 348.20,379.14 348.33,340.12 342.95,339.15" fill="#3F6EB0" stroke="#3F6EB0"/><polygon points="342.95,339.15 348.33,340.12 352.18,334.87 346.83,333.92" fill="#2F5B91" stroke="#2F5B91"/><polygon points="356.2,380.6 361.5,381.6 365.3,376.2 360.0,375.2" fill="#24497C"/><polygon points="369.6,383.2 375.0,384.2 378.6,378.7 373.3,377.7" fill="#24497C"/><polygon points="383.1,385.7 388.5,386.7 392.1,381.2 386.7,380.2" fill="#24497C"/><polygon points="402.03,389.24 405.57,383.71 406.81,321.76 403.21,327.02" fill="#264C82" stroke="#264C82"/><polygon points="396.59,388.22 402.03,389.24 403.21,327.02 397.68,326.05" fill="#3F6EB0" stroke="#3F6EB0"/><polygon points="397.68,326.05 403.21,327.02 406.81,321.76 401.30,320.80" fill="#2F5B91" stroke="#2F5B91"/><polygon points="415.67,391.80 419.14,386.24 420.76,318.41 417.24,323.67" fill="#264C82" stroke="#264C82"/><polygon points="410.21,390.77 415.67,391.80 417.24,323.67 411.66,322.70" fill="#3F6EB0" stroke="#3F6EB0"/><polygon points="411.66,322.70 417.24,323.67 420.76,318.41 415.22,317.45" fill="#2F5B91" stroke="#2F5B91"/><polygon points="429.39,394.37 432.79,388.78 435.33,297.56 431.86,302.74" fill="#264C82" stroke="#264C82"/><polygon points="423.89,393.34 429.39,394.37 431.86,302.74 426.21,301.79" fill="#3F6EB0" stroke="#3F6EB0"/><polygon points="426.21,301.79 431.86,302.74 435.33,297.56 429.72,296.61" fill="#2F5B91" stroke="#2F5B91"/><polygon points="443.18,396.96 446.51,391.34 448.68,323.23 445.30,328.55" fill="#264C82" stroke="#264C82"/><polygon points="437.66,395.92 443.18,396.96 445.30,328.55 439.66,327.57" fill="#3F6EB0" stroke="#3F6EB0"/><polygon points="439.66,327.57 445.30,328.55 448.68,323.23 443.07,322.26" fill="#2F5B91" stroke="#2F5B91"/><polygon points="457.05,399.56 460.31,393.91 462.14,342.97 458.84,348.40" fill="#264C82" stroke="#264C82"/><polygon points="451.50,398.52 457.05,399.56 458.84,348.40 453.20,347.40" fill="#3F6EB0" stroke="#3F6EB0"/><polygon points="453.20,347.40 458.84,348.40 462.14,342.97 456.52,341.98" fill="#2F5B91" stroke="#2F5B91"/><polygon points="465.4,401.1 471.0,402.2 474.2,396.5 468.6,395.5" fill="#24497C"/><polygon points="479.4,403.8 485.0,404.8 488.1,399.1 482.5,398.1" fill="#24497C"/><polygon points="493.5,406.4 499.1,407.5 502.2,401.7 496.5,400.7" fill="#24497C"/><polygon points="507.6,409.1 513.3,410.1 516.3,404.3 510.6,403.3" fill="#24497C"/><polygon points="521.9,411.7 527.6,412.8 530.5,407.0 524.8,405.9" fill="#24497C"/><polygon points="536.2,414.4 541.9,415.5 544.7,409.6 539.0,408.6" fill="#24497C"/><polygon points="550.6,417.1 556.3,418.2 559.1,412.3 553.3,411.2" fill="#24497C"/><polygon points="565.0,419.8 570.8,420.9 573.5,415.0 567.7,413.9" fill="#24497C"/></g><text x="27.8" y="328.6" text-anchor="end" font-family="Liberation Sans, sans-serif" font-size="10.3" fill="#1a1a1a">0</text><text x="25.6" y="302.1" text-anchor="end" font-family="Liberation Sans, sans-serif" font-size="10.3" fill="#1a1a1a">5</text><text x="23.3" y="275.1" text-anchor="end" font-family="Liberation Sans, sans-serif" font-size="10.3" fill="#1a1a1a">10</text><text x="21.0" y="247.8" text-anchor="end" font-family="Liberation Sans, sans-serif" font-size="10.3" fill="#1a1a1a">15</text><text x="18.6" y="220.0" text-anchor="end" font-family="Liberation Sans, sans-serif" font-size="10.3" fill="#1a1a1a">20</text><text x="16.2" y="191.8" text-anchor="end" font-family="Liberation Sans, sans-serif" font-size="10.3" fill="#1a1a1a">25</text><text x="13.8" y="163.2" text-anchor="end" font-family="Liberation Sans, sans-serif" font-size="10.3" fill="#1a1a1a">30</text><text x="11.3" y="134.1" text-anchor="end" font-family="Liberation Sans, sans-serif" font-size="10.3" fill="#1a1a1a">35</text><text transform="translate(45.1,334.9) rotate(-70)" text-anchor="end" font-family="Liberation Serif, serif" font-style="italic" font-size="10" fill="#111" stroke="#111" stroke-width="0.2">T. reesei</text><text transform="translate(56.9,337.2) rotate(-70)" text-anchor="end" font-family="Liberation Serif, serif" font-style="italic" font-size="10" fill="#111" stroke="#111" stroke-width="0.2">S. nodorum</text><text transform="translate(68.8,339.4) rotate(-70)" text-anchor="end" font-family="Liberation Serif, serif" font-style="italic" font-size="10" fill="#111" stroke="#111" stroke-width="0.2">M. thermophila</text><text transform="translate(80.7,341.6) rotate(-70)" text-anchor="end" font-family="Liberation Serif, serif" font-style="italic" font-size="10" fill="#111" stroke="#111" stroke-width="0.2">T. terrestris</text><text transform="translate(92.6,343.9) rotate(-70)" text-anchor="end" font-family="Liberation Serif, serif" font-style="italic" font-size="10" fill="#111" stroke="#111" stroke-width="0.2">A. niger</text><text transform="translate(104.7,346.2) rotate(-70)" text-anchor="end" font-family="Liberation Serif, serif" font-style="italic" font-size="10" fill="#111" stroke="#111" stroke-width="0.2">N. crassa</text><text transform="translate(116.8,348.4) rotate(-70)" text-anchor="end" font-family="Liberation Serif, serif" font-style="italic" font-size="10" fill="#111" stroke="#111" stroke-width="0.2">P. anserina</text><text transform="translate(128.9,350.7) rotate(-70)" text-anchor="end" font-family="Liberation Serif, serif" font-style="italic" font-size="10" fill="#111" stroke="#111" stroke-width="0.2">B. cinerea</text><text transform="translate(141.2,353.0) rotate(-70)" text-anchor="end" font-family="Liberation Serif, serif" font-style="italic" font-size="10" fill="#111" stroke="#111" stroke-width="0.2">S. sclerotiorum</text><text transform="translate(153.5,355.4) rotate(-70)" text-anchor="end" font-family="Liberation Serif, serif" font-style="italic" font-size="10" fill="#111" stroke="#111" stroke-width="0.2">C. fulvum</text><text transform="translate(165.8,357.7) rotate(-70)" text-anchor="end" font-family="Liberation Serif, serif" font-style="italic" font-size="10" fill="#111" stroke="#111" stroke-width="0.2">D. septosporum</text><text transform="translate(178.2,360.0) rotate(-70)" text-anchor="end" font-family="Liberation Serif, serif" font-style="italic" font-size="10" fill="#111" stroke="#111" stroke-width="0.2">G. clavigera</text><text transform="translate(190.7,362.4) rotate(-70)" text-anchor="end" font-family="Liberation Serif, serif" font-style="italic" font-size="10" fill="#111" stroke="#111" stroke-width="0.2">S. hirsutum</text><text transform="translate(203.3,364.8) rotate(-70)" text-anchor="end" font-family="Liberation Serif, serif" font-style="italic" font-size="10" fill="#111" stroke="#111" stroke-width="0.2">H. annosum</text><text transform="translate(215.9,367.1) rotate(-70)" text-anchor="end" font-family="Liberation Serif, serif" font-style="italic" font-size="10" fill="#111" stroke="#111" stroke-width="0.2">C. cinerea</text><text transform="translate(228.6,369.5) rotate(-70)" text-anchor="end" font-family="Liberation Serif, serif" font-style="italic" font-size="10" fill="#111" stroke="#111" stroke-width="0.2">G. trabeum</text><text transform="translate(241.3,371.9) rotate(-70)" text-anchor="end" font-family="Liberation Serif, serif" font-style="italic" font-size="10" fill="#111" stroke="#111" stroke-width="0.2">S. commune</text><text transform="translate(254.1,374.3) rotate(-70)" text-anchor="end" font-family="Liberation Serif, serif" font-style="italic" font-size="10" fill="#111" stroke="#111" stroke-width="0.2">F. pinicola</text><text transform="translate(267.0,376.8) rotate(-70)" text-anchor="end" font-family="Liberation Serif, serif" font-style="italic" font-size="10" fill="#111" stroke="#111" stroke-width="0.2">W. cocos</text><text transform="translate(280.0,379.2) rotate(-70)" text-anchor="end" font-family="Liberation Serif, serif" font-style="italic" font-size="10" fill="#111" stroke="#111" stroke-width="0.2">C. puteana</text><text transform="translate(293.0,381.7) rotate(-70)" text-anchor="end" font-family="Liberation Serif, serif" font-style="italic" font-size="10" fill="#111" stroke="#111" stroke-width="0.2">S. lacrymans</text><text transform="translate(306.1,384.1) rotate(-70)" text-anchor="end" font-family="Liberation Serif, serif" font-style="italic" font-size="10" fill="#111" stroke="#111" stroke-width="0.2">P. placenta</text><text transform="translate(319.3,386.6) rotate(-70)" text-anchor="end" font-family="Liberation Serif, serif" font-style="italic" font-size="10" fill="#111" stroke="#111" stroke-width="0.2">F. mediterranea</text><text transform="translate(332.5,389.1) rotate(-70)" text-anchor="end" font-family="Liberation Serif, serif" font-style="italic" font-size="10" fill="#111" stroke="#111" stroke-width="0.2">T. versicolor</text><text transform="translate(345.8,391.6) rotate(-70)" text-anchor="end" font-family="Liberation Serif, serif" font-style="italic" font-size="10" fill="#111" stroke="#111" stroke-width="0.2">C. subvermispora</text><text transform="translate(359.2,394.2) rotate(-70)" text-anchor="end" font-family="Liberation Serif, serif" font-style="italic" font-size="10" fill="#111" stroke="#111" stroke-width="0.2">A. delicata</text><text transform="translate(372.7,396.7) rotate(-70)" text-anchor="end" font-family="Liberation Serif, serif" font-style="italic" font-size="10" fill="#111" stroke="#111" stroke-width="0.2">P. chrysosporium</text><text transform="translate(386.2,399.2) rotate(-70)" text-anchor="end" font-family="Liberation Serif, serif" font-style="italic" font-size="10" fill="#111" stroke="#111" stroke-width="0.2">P. carnosa</text><text transform="translate(399.8,401.8) rotate(-70)" text-anchor="end" font-family="Liberation Serif, serif" font-style="italic" font-size="10" fill="#111" stroke="#111" stroke-width="0.2">D. squalens</text><text transform="translate(413.5,404.4) rotate(-70)" text-anchor="end" font-family="Liberation Serif, serif" font-style="italic" font-size="10" fill="#111" stroke="#111" stroke-width="0.2">P. strigosozonata</text><text transform="translate(427.3,407.0) rotate(-70)" text-anchor="end" font-family="Liberation Serif, serif" font-style="italic" font-size="10" fill="#111" stroke="#111" stroke-width="0.2">Ganoderma sp.</text><text transform="translate(441.1,409.6) rotate(-70)" text-anchor="end" font-family="Liberation Serif, serif" font-style="italic" font-size="10" fill="#111" stroke="#111" stroke-width="0.2">G. lucidum</text><text transform="translate(455.0,412.2) rotate(-70)" text-anchor="end" font-family="Liberation Serif, serif" font-style="italic" font-size="10" fill="#111" stroke="#111" stroke-width="0.2">L. bicolor</text><text transform="translate(469.0,414.9) rotate(-70)" text-anchor="end" font-family="Liberation Serif, serif" font-style="italic" font-size="10" fill="#111" stroke="#111" stroke-width="0.2">T. mesenterica</text><text transform="translate(483.0,417.5) rotate(-70)" text-anchor="end" font-family="Liberation Serif, serif" font-style="italic" font-size="10" fill="#111" stroke="#111" stroke-width="0.2">S. roseus</text><text transform="translate(497.2,420.2) rotate(-70)" text-anchor="end" font-family="Liberation Serif, serif" font-style="italic" font-size="10" fill="#111" stroke="#111" stroke-width="0.2">U. maydis</text><text transform="translate(511.4,422.9) rotate(-70)" text-anchor="end" font-family="Liberation Serif, serif" font-style="italic" font-size="10" fill="#111" stroke="#111" stroke-width="0.2">C. neoformans</text><text transform="translate(525.7,425.6) rotate(-70)" text-anchor="end" font-family="Liberation Serif, serif" font-style="italic" font-size="10" fill="#111" stroke="#111" stroke-width="0.2">Dacryopinax sp.</text><text transform="translate(540.1,428.3) rotate(-70)" text-anchor="end" font-family="Liberation Serif, serif" font-style="italic" font-size="10" fill="#111" stroke="#111" stroke-width="0.2">M. laricis-populina</text><text transform="translate(554.6,431.0) rotate(-70)" text-anchor="end" font-family="Liberation Serif, serif" font-style="italic" font-size="10" fill="#111" stroke="#111" stroke-width="0.2">M. globosa</text><text transform="translate(569.1,433.7) rotate(-70)" text-anchor="end" font-family="Liberation Serif, serif" font-style="italic" font-size="10" fill="#111" stroke="#111" stroke-width="0.2">P. stipitis</text><text x="583.1" y="421.3" font-family="Liberation Serif, serif" font-weight="bold" font-size="9" fill="#111" stroke="#111" stroke-width="0.05">AA1_1</text><text x="589.6" y="406.7" font-family="Liberation Serif, serif" font-weight="bold" font-size="9" fill="#111" stroke="#111" stroke-width="0.05">AA1_2</text><text x="595.8" y="392.6" font-family="Liberation Serif, serif" font-weight="bold" font-size="9" fill="#111" stroke="#111" stroke-width="0.05">AA1_3</text><text x="601.9" y="378.8" font-family="Liberation Serif, serif" font-weight="bold" font-size="9" fill="#111" stroke="#111" stroke-width="0.05">AA2</text><text x="607.8" y="365.5" font-family="Liberation Serif, serif" font-weight="bold" font-size="9" fill="#111" stroke="#111" stroke-width="0.05">AA3_1</text><text x="613.6" y="352.5" font-family="Liberation Serif, serif" font-weight="bold" font-size="9" fill="#111" stroke="#111" stroke-width="0.05">AA3_2</text><text x="619.2" y="339.9" font-family="Liberation Serif, serif" font-weight="bold" font-size="9" fill="#111" stroke="#111" stroke-width="0.05">AA3_3</text><text x="624.6" y="327.6" font-family="Liberation Serif, serif" font-weight="bold" font-size="9" fill="#111" stroke="#111" stroke-width="0.05">AA3_4</text><text x="629.9" y="315.7" font-family="Liberation Serif, serif" font-weight="bold" font-size="9" fill="#111" stroke="#111" stroke-width="0.05">AA4</text><text x="635.0" y="304.1" font-family="Liberation Serif, serif" font-weight="bold" font-size="9" fill="#111" stroke="#111" stroke-width="0.05">AA5_1</text><text x="640.0" y="292.8" font-family="Liberation Serif, serif" font-weight="bold" font-size="9" fill="#111" stroke="#111" stroke-width="0.05">AA5_2</text><text x="644.9" y="281.7" font-family="Liberation Serif, serif" font-weight="bold" font-size="9" fill="#111" stroke="#111" stroke-width="0.05">AA6</text><text x="649.7" y="271.0" font-family="Liberation Serif, serif" font-weight="bold" font-size="9" fill="#111" stroke="#111" stroke-width="0.05">AA7</text><text x="654.3" y="260.5" font-family="Liberation Serif, serif" font-weight="bold" font-size="9" fill="#111" stroke="#111" stroke-width="0.05">AA8</text><text x="658.8" y="250.3" font-family="Liberation Serif, serif" font-weight="bold" font-size="9" fill="#111" stroke="#111" stroke-width="0.05">AA9</text><text x="663.3" y="240.4" font-family="Liberation Serif, serif" font-weight="bold" font-size="9" fill="#111" stroke="#111" stroke-width="0.05">AA10</text>
</svg></body></html>
